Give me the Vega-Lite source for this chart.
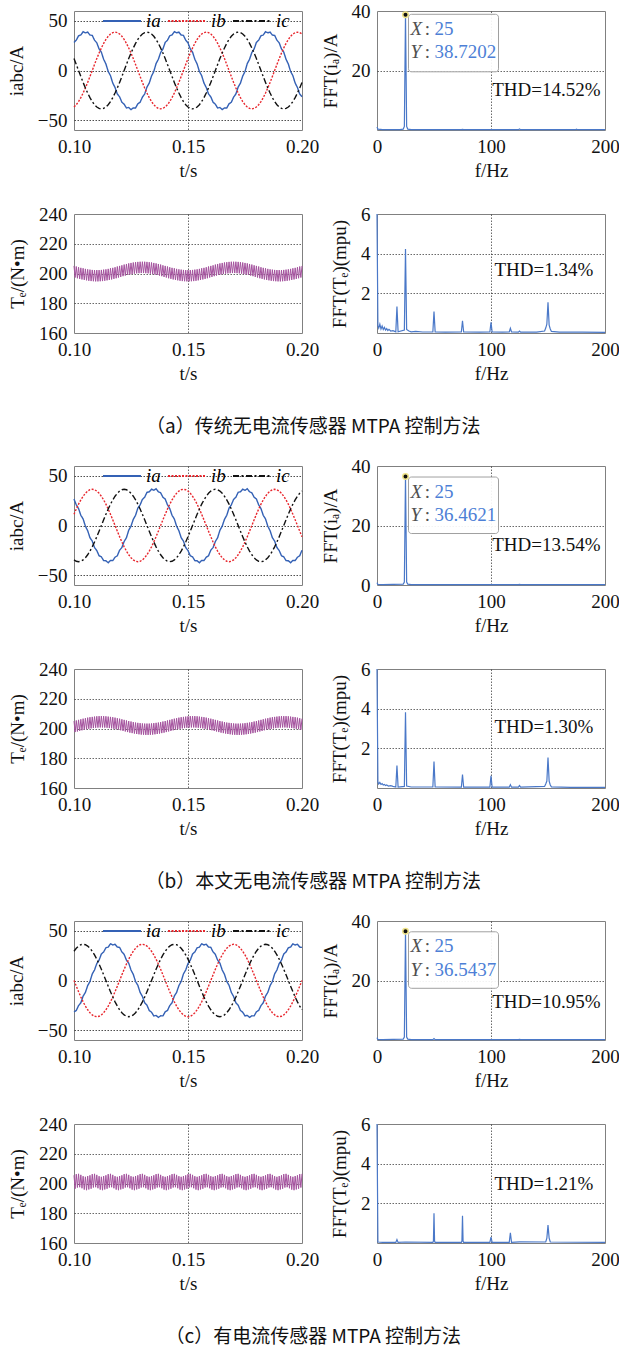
{
"$schema": "https://vega.github.io/schema/vega-lite/v6.json",
"padding": {"left": 6, "top": 0, "right": 0, "bottom": 0},
"background": "white",
"spacing": 18,
"resolve": {"scale": {"color": "independent", "strokeDash": "independent"}},
"datasets": {
"cur_a": [
{"s":"ia","t":0.100,"v":28.3},{"s":"ia","t":0.101,"v":30.6},{"s":"ia","t":0.102,"v":35.0},{"s":"ia","t":0.103,"v":35.8},{"s":"ia","t":0.104,"v":39.1},{"s":"ia","t":0.105,"v":38.0},{"s":"ia","t":0.106,"v":38.7},{"s":"ia","t":0.107,"v":35.8},{"s":"ia","t":0.108,"v":35.4},{"s":"ia","t":0.109,"v":30.6},
{"s":"ia","t":0.110,"v":27.9},{"s":"ia","t":0.111,"v":21.7},{"s":"ia","t":0.112,"v":18.5},{"s":"ia","t":0.113,"v":11.3},{"s":"ia","t":0.114,"v":6.6},{"s":"ia","t":0.115,"v":-1.0},{"s":"ia","t":0.116,"v":-5.2},{"s":"ia","t":0.117,"v":-12.7},{"s":"ia","t":0.118,"v":-17.1},{"s":"ia","t":0.119,"v":-23.7},
{"s":"ia","t":0.120,"v":-26.5},{"s":"ia","t":0.121,"v":-32.0},{"s":"ia","t":0.122,"v":-34.0},{"s":"ia","t":0.123,"v":-37.8},{"s":"ia","t":0.124,"v":-37.3},{"s":"ia","t":0.125,"v":-39.4},{"s":"ia","t":0.126,"v":-37.7},{"s":"ia","t":0.127,"v":-37.8},{"s":"ia","t":0.128,"v":-33.6},{"s":"ia","t":0.129,"v":-32.0},
{"s":"ia","t":0.130,"v":-26.9},{"s":"ia","t":0.131,"v":-23.7},{"s":"ia","t":0.132,"v":-16.7},{"s":"ia","t":0.133,"v":-12.7},{"s":"ia","t":0.134,"v":-5.6},{"s":"ia","t":0.135,"v":-1.0},{"s":"ia","t":0.136,"v":7.0},{"s":"ia","t":0.137,"v":11.3},{"s":"ia","t":0.138,"v":18.1},{"s":"ia","t":0.139,"v":21.7},
{"s":"ia","t":0.140,"v":28.3},{"s":"ia","t":0.141,"v":30.6},{"s":"ia","t":0.142,"v":35.0},{"s":"ia","t":0.143,"v":35.8},{"s":"ia","t":0.144,"v":39.1},{"s":"ia","t":0.145,"v":38.0},{"s":"ia","t":0.146,"v":38.7},{"s":"ia","t":0.147,"v":35.8},{"s":"ia","t":0.148,"v":35.4},{"s":"ia","t":0.149,"v":30.6},
{"s":"ia","t":0.150,"v":27.9},{"s":"ia","t":0.151,"v":21.7},{"s":"ia","t":0.152,"v":18.5},{"s":"ia","t":0.153,"v":11.3},{"s":"ia","t":0.154,"v":6.6},{"s":"ia","t":0.155,"v":-1.0},{"s":"ia","t":0.156,"v":-5.2},{"s":"ia","t":0.157,"v":-12.7},{"s":"ia","t":0.158,"v":-17.1},{"s":"ia","t":0.159,"v":-23.7},
{"s":"ia","t":0.160,"v":-26.5},{"s":"ia","t":0.161,"v":-32.0},{"s":"ia","t":0.162,"v":-34.0},{"s":"ia","t":0.163,"v":-37.8},{"s":"ia","t":0.164,"v":-37.3},{"s":"ia","t":0.165,"v":-39.4},{"s":"ia","t":0.166,"v":-37.7},{"s":"ia","t":0.167,"v":-37.8},{"s":"ia","t":0.168,"v":-33.6},{"s":"ia","t":0.169,"v":-32.0},
{"s":"ia","t":0.170,"v":-26.9},{"s":"ia","t":0.171,"v":-23.7},{"s":"ia","t":0.172,"v":-16.7},{"s":"ia","t":0.173,"v":-12.7},{"s":"ia","t":0.174,"v":-5.6},{"s":"ia","t":0.175,"v":-1.0},{"s":"ia","t":0.176,"v":7.0},{"s":"ia","t":0.177,"v":11.3},{"s":"ia","t":0.178,"v":18.1},{"s":"ia","t":0.179,"v":21.7},
{"s":"ia","t":0.180,"v":28.3},{"s":"ia","t":0.181,"v":30.6},{"s":"ia","t":0.182,"v":35.0},{"s":"ia","t":0.183,"v":35.8},{"s":"ia","t":0.184,"v":39.1},{"s":"ia","t":0.185,"v":38.0},{"s":"ia","t":0.186,"v":38.7},{"s":"ia","t":0.187,"v":35.8},{"s":"ia","t":0.188,"v":35.4},{"s":"ia","t":0.189,"v":30.6},
{"s":"ia","t":0.190,"v":27.9},{"s":"ia","t":0.191,"v":21.7},{"s":"ia","t":0.192,"v":18.5},{"s":"ia","t":0.193,"v":11.3},{"s":"ia","t":0.194,"v":6.6},{"s":"ia","t":0.195,"v":-1.0},{"s":"ia","t":0.196,"v":-5.2},{"s":"ia","t":0.197,"v":-12.7},{"s":"ia","t":0.198,"v":-17.1},{"s":"ia","t":0.199,"v":-23.7},{"s":"ia","t":0.200,"v":-26.5},
{"s":"ib","t":0.100,"v":-36.8},{"s":"ib","t":0.101,"v":-34.5},{"s":"ib","t":0.102,"v":-31.3},{"s":"ib","t":0.103,"v":-27.4},{"s":"ib","t":0.104,"v":-22.7},{"s":"ib","t":0.105,"v":-17.6},{"s":"ib","t":0.106,"v":-12.0},{"s":"ib","t":0.107,"v":-6.1},{"s":"ib","t":0.108,"v":0},{"s":"ib","t":0.109,"v":6.1},
{"s":"ib","t":0.110,"v":12.0},{"s":"ib","t":0.111,"v":17.6},{"s":"ib","t":0.112,"v":22.7},{"s":"ib","t":0.113,"v":27.4},{"s":"ib","t":0.114,"v":31.3},{"s":"ib","t":0.115,"v":34.5},{"s":"ib","t":0.116,"v":36.8},{"s":"ib","t":0.117,"v":38.2},{"s":"ib","t":0.118,"v":38.7},{"s":"ib","t":0.119,"v":38.2},
{"s":"ib","t":0.120,"v":36.8},{"s":"ib","t":0.121,"v":34.5},{"s":"ib","t":0.122,"v":31.3},{"s":"ib","t":0.123,"v":27.4},{"s":"ib","t":0.124,"v":22.7},{"s":"ib","t":0.125,"v":17.6},{"s":"ib","t":0.126,"v":12.0},{"s":"ib","t":0.127,"v":6.1},{"s":"ib","t":0.128,"v":0},{"s":"ib","t":0.129,"v":-6.1},
{"s":"ib","t":0.130,"v":-12.0},{"s":"ib","t":0.131,"v":-17.6},{"s":"ib","t":0.132,"v":-22.7},{"s":"ib","t":0.133,"v":-27.4},{"s":"ib","t":0.134,"v":-31.3},{"s":"ib","t":0.135,"v":-34.5},{"s":"ib","t":0.136,"v":-36.8},{"s":"ib","t":0.137,"v":-38.2},{"s":"ib","t":0.138,"v":-38.7},{"s":"ib","t":0.139,"v":-38.2},
{"s":"ib","t":0.140,"v":-36.8},{"s":"ib","t":0.141,"v":-34.5},{"s":"ib","t":0.142,"v":-31.3},{"s":"ib","t":0.143,"v":-27.4},{"s":"ib","t":0.144,"v":-22.7},{"s":"ib","t":0.145,"v":-17.6},{"s":"ib","t":0.146,"v":-12.0},{"s":"ib","t":0.147,"v":-6.1},{"s":"ib","t":0.148,"v":0},{"s":"ib","t":0.149,"v":6.1},
{"s":"ib","t":0.150,"v":12.0},{"s":"ib","t":0.151,"v":17.6},{"s":"ib","t":0.152,"v":22.7},{"s":"ib","t":0.153,"v":27.4},{"s":"ib","t":0.154,"v":31.3},{"s":"ib","t":0.155,"v":34.5},{"s":"ib","t":0.156,"v":36.8},{"s":"ib","t":0.157,"v":38.2},{"s":"ib","t":0.158,"v":38.7},{"s":"ib","t":0.159,"v":38.2},
{"s":"ib","t":0.160,"v":36.8},{"s":"ib","t":0.161,"v":34.5},{"s":"ib","t":0.162,"v":31.3},{"s":"ib","t":0.163,"v":27.4},{"s":"ib","t":0.164,"v":22.7},{"s":"ib","t":0.165,"v":17.6},{"s":"ib","t":0.166,"v":12.0},{"s":"ib","t":0.167,"v":6.1},{"s":"ib","t":0.168,"v":0},{"s":"ib","t":0.169,"v":-6.1},
{"s":"ib","t":0.170,"v":-12.0},{"s":"ib","t":0.171,"v":-17.6},{"s":"ib","t":0.172,"v":-22.7},{"s":"ib","t":0.173,"v":-27.4},{"s":"ib","t":0.174,"v":-31.3},{"s":"ib","t":0.175,"v":-34.5},{"s":"ib","t":0.176,"v":-36.8},{"s":"ib","t":0.177,"v":-38.2},{"s":"ib","t":0.178,"v":-38.7},{"s":"ib","t":0.179,"v":-38.2},
{"s":"ib","t":0.180,"v":-36.8},{"s":"ib","t":0.181,"v":-34.5},{"s":"ib","t":0.182,"v":-31.3},{"s":"ib","t":0.183,"v":-27.4},{"s":"ib","t":0.184,"v":-22.7},{"s":"ib","t":0.185,"v":-17.6},{"s":"ib","t":0.186,"v":-12.0},{"s":"ib","t":0.187,"v":-6.1},{"s":"ib","t":0.188,"v":0},{"s":"ib","t":0.189,"v":6.1},
{"s":"ib","t":0.190,"v":12.0},{"s":"ib","t":0.191,"v":17.6},{"s":"ib","t":0.192,"v":22.7},{"s":"ib","t":0.193,"v":27.4},{"s":"ib","t":0.194,"v":31.3},{"s":"ib","t":0.195,"v":34.5},{"s":"ib","t":0.196,"v":36.8},{"s":"ib","t":0.197,"v":38.2},{"s":"ib","t":0.198,"v":38.7},{"s":"ib","t":0.199,"v":38.2},{"s":"ib","t":0.200,"v":36.8},
{"s":"ic","t":0.100,"v":12.0},{"s":"ic","t":0.101,"v":6.1},{"s":"ic","t":0.102,"v":0},{"s":"ic","t":0.103,"v":-6.1},{"s":"ic","t":0.104,"v":-12.0},{"s":"ic","t":0.105,"v":-17.6},{"s":"ic","t":0.106,"v":-22.7},{"s":"ic","t":0.107,"v":-27.4},{"s":"ic","t":0.108,"v":-31.3},{"s":"ic","t":0.109,"v":-34.5},
{"s":"ic","t":0.110,"v":-36.8},{"s":"ic","t":0.111,"v":-38.2},{"s":"ic","t":0.112,"v":-38.7},{"s":"ic","t":0.113,"v":-38.2},{"s":"ic","t":0.114,"v":-36.8},{"s":"ic","t":0.115,"v":-34.5},{"s":"ic","t":0.116,"v":-31.3},{"s":"ic","t":0.117,"v":-27.4},{"s":"ic","t":0.118,"v":-22.7},{"s":"ic","t":0.119,"v":-17.6},
{"s":"ic","t":0.120,"v":-12.0},{"s":"ic","t":0.121,"v":-6.1},{"s":"ic","t":0.122,"v":0},{"s":"ic","t":0.123,"v":6.1},{"s":"ic","t":0.124,"v":12.0},{"s":"ic","t":0.125,"v":17.6},{"s":"ic","t":0.126,"v":22.7},{"s":"ic","t":0.127,"v":27.4},{"s":"ic","t":0.128,"v":31.3},{"s":"ic","t":0.129,"v":34.5},
{"s":"ic","t":0.130,"v":36.8},{"s":"ic","t":0.131,"v":38.2},{"s":"ic","t":0.132,"v":38.7},{"s":"ic","t":0.133,"v":38.2},{"s":"ic","t":0.134,"v":36.8},{"s":"ic","t":0.135,"v":34.5},{"s":"ic","t":0.136,"v":31.3},{"s":"ic","t":0.137,"v":27.4},{"s":"ic","t":0.138,"v":22.7},{"s":"ic","t":0.139,"v":17.6},
{"s":"ic","t":0.140,"v":12.0},{"s":"ic","t":0.141,"v":6.1},{"s":"ic","t":0.142,"v":0},{"s":"ic","t":0.143,"v":-6.1},{"s":"ic","t":0.144,"v":-12.0},{"s":"ic","t":0.145,"v":-17.6},{"s":"ic","t":0.146,"v":-22.7},{"s":"ic","t":0.147,"v":-27.4},{"s":"ic","t":0.148,"v":-31.3},{"s":"ic","t":0.149,"v":-34.5},
{"s":"ic","t":0.150,"v":-36.8},{"s":"ic","t":0.151,"v":-38.2},{"s":"ic","t":0.152,"v":-38.7},{"s":"ic","t":0.153,"v":-38.2},{"s":"ic","t":0.154,"v":-36.8},{"s":"ic","t":0.155,"v":-34.5},{"s":"ic","t":0.156,"v":-31.3},{"s":"ic","t":0.157,"v":-27.4},{"s":"ic","t":0.158,"v":-22.7},{"s":"ic","t":0.159,"v":-17.6},
{"s":"ic","t":0.160,"v":-12.0},{"s":"ic","t":0.161,"v":-6.1},{"s":"ic","t":0.162,"v":0},{"s":"ic","t":0.163,"v":6.1},{"s":"ic","t":0.164,"v":12.0},{"s":"ic","t":0.165,"v":17.6},{"s":"ic","t":0.166,"v":22.7},{"s":"ic","t":0.167,"v":27.4},{"s":"ic","t":0.168,"v":31.3},{"s":"ic","t":0.169,"v":34.5},
{"s":"ic","t":0.170,"v":36.8},{"s":"ic","t":0.171,"v":38.2},{"s":"ic","t":0.172,"v":38.7},{"s":"ic","t":0.173,"v":38.2},{"s":"ic","t":0.174,"v":36.8},{"s":"ic","t":0.175,"v":34.5},{"s":"ic","t":0.176,"v":31.3},{"s":"ic","t":0.177,"v":27.4},{"s":"ic","t":0.178,"v":22.7},{"s":"ic","t":0.179,"v":17.6},
{"s":"ic","t":0.180,"v":12.0},{"s":"ic","t":0.181,"v":6.1},{"s":"ic","t":0.182,"v":0},{"s":"ic","t":0.183,"v":-6.1},{"s":"ic","t":0.184,"v":-12.0},{"s":"ic","t":0.185,"v":-17.6},{"s":"ic","t":0.186,"v":-22.7},{"s":"ic","t":0.187,"v":-27.4},{"s":"ic","t":0.188,"v":-31.3},{"s":"ic","t":0.189,"v":-34.5},
{"s":"ic","t":0.190,"v":-36.8},{"s":"ic","t":0.191,"v":-38.2},{"s":"ic","t":0.192,"v":-38.7},{"s":"ic","t":0.193,"v":-38.2},{"s":"ic","t":0.194,"v":-36.8},{"s":"ic","t":0.195,"v":-34.5},{"s":"ic","t":0.196,"v":-31.3},{"s":"ic","t":0.197,"v":-27.4},{"s":"ic","t":0.198,"v":-22.7},{"s":"ic","t":0.199,"v":-17.6},{"s":"ic","t":0.200,"v":-12.0}
],
"cur_b": [
{"s":"ia","t":0.100,"v":26.7},{"s":"ia","t":0.101,"v":20.8},{"s":"ia","t":0.102,"v":17.1},{"s":"ia","t":0.103,"v":10.3},{"s":"ia","t":0.104,"v":6.6},{"s":"ia","t":0.105,"v":-0.7},{"s":"ia","t":0.106,"v":-5.2},{"s":"ia","t":0.107,"v":-12.3},{"s":"ia","t":0.108,"v":-15.7},{"s":"ia","t":0.109,"v":-22.2},
{"s":"ia","t":0.110,"v":-25.3},{"s":"ia","t":0.111,"v":-30.5},{"s":"ia","t":0.112,"v":-31.6},{"s":"ia","t":0.113,"v":-35.4},{"s":"ia","t":0.114,"v":-35.6},{"s":"ia","t":0.115,"v":-37.5},{"s":"ia","t":0.116,"v":-35.2},{"s":"ia","t":0.117,"v":-35.4},{"s":"ia","t":0.118,"v":-32.0},{"s":"ia","t":0.119,"v":-30.5},
{"s":"ia","t":0.120,"v":-24.9},{"s":"ia","t":0.121,"v":-22.2},{"s":"ia","t":0.122,"v":-16.1},{"s":"ia","t":0.123,"v":-12.3},{"s":"ia","t":0.124,"v":-4.8},{"s":"ia","t":0.125,"v":-0.7},{"s":"ia","t":0.126,"v":6.2},{"s":"ia","t":0.127,"v":10.3},{"s":"ia","t":0.128,"v":17.5},{"s":"ia","t":0.129,"v":20.8},
{"s":"ia","t":0.130,"v":26.3},{"s":"ia","t":0.131,"v":28.5},{"s":"ia","t":0.132,"v":33.4},{"s":"ia","t":0.133,"v":34.0},{"s":"ia","t":0.134,"v":36.6},{"s":"ia","t":0.135,"v":35.5},{"s":"ia","t":0.136,"v":37.0},{"s":"ia","t":0.137,"v":34.0},{"s":"ia","t":0.138,"v":33.0},{"s":"ia","t":0.139,"v":28.5},
{"s":"ia","t":0.140,"v":26.7},{"s":"ia","t":0.141,"v":20.8},{"s":"ia","t":0.142,"v":17.1},{"s":"ia","t":0.143,"v":10.3},{"s":"ia","t":0.144,"v":6.6},{"s":"ia","t":0.145,"v":-0.7},{"s":"ia","t":0.146,"v":-5.2},{"s":"ia","t":0.147,"v":-12.3},{"s":"ia","t":0.148,"v":-15.7},{"s":"ia","t":0.149,"v":-22.2},
{"s":"ia","t":0.150,"v":-25.3},{"s":"ia","t":0.151,"v":-30.5},{"s":"ia","t":0.152,"v":-31.6},{"s":"ia","t":0.153,"v":-35.4},{"s":"ia","t":0.154,"v":-35.6},{"s":"ia","t":0.155,"v":-37.5},{"s":"ia","t":0.156,"v":-35.2},{"s":"ia","t":0.157,"v":-35.4},{"s":"ia","t":0.158,"v":-32.0},{"s":"ia","t":0.159,"v":-30.5},
{"s":"ia","t":0.160,"v":-24.9},{"s":"ia","t":0.161,"v":-22.2},{"s":"ia","t":0.162,"v":-16.1},{"s":"ia","t":0.163,"v":-12.3},{"s":"ia","t":0.164,"v":-4.8},{"s":"ia","t":0.165,"v":-0.7},{"s":"ia","t":0.166,"v":6.2},{"s":"ia","t":0.167,"v":10.3},{"s":"ia","t":0.168,"v":17.5},{"s":"ia","t":0.169,"v":20.8},
{"s":"ia","t":0.170,"v":26.3},{"s":"ia","t":0.171,"v":28.5},{"s":"ia","t":0.172,"v":33.4},{"s":"ia","t":0.173,"v":34.0},{"s":"ia","t":0.174,"v":36.6},{"s":"ia","t":0.175,"v":35.5},{"s":"ia","t":0.176,"v":37.0},{"s":"ia","t":0.177,"v":34.0},{"s":"ia","t":0.178,"v":33.0},{"s":"ia","t":0.179,"v":28.5},
{"s":"ia","t":0.180,"v":26.7},{"s":"ia","t":0.181,"v":20.8},{"s":"ia","t":0.182,"v":17.1},{"s":"ia","t":0.183,"v":10.3},{"s":"ia","t":0.184,"v":6.6},{"s":"ia","t":0.185,"v":-0.7},{"s":"ia","t":0.186,"v":-5.2},{"s":"ia","t":0.187,"v":-12.3},{"s":"ia","t":0.188,"v":-15.7},{"s":"ia","t":0.189,"v":-22.2},
{"s":"ia","t":0.190,"v":-25.3},{"s":"ia","t":0.191,"v":-30.5},{"s":"ia","t":0.192,"v":-31.6},{"s":"ia","t":0.193,"v":-35.4},{"s":"ia","t":0.194,"v":-35.6},{"s":"ia","t":0.195,"v":-37.5},{"s":"ia","t":0.196,"v":-35.2},{"s":"ia","t":0.197,"v":-35.4},{"s":"ia","t":0.198,"v":-32.0},{"s":"ia","t":0.199,"v":-30.5},{"s":"ia","t":0.200,"v":-24.9},
{"s":"ib","t":0.100,"v":11.3},{"s":"ib","t":0.101,"v":16.6},{"s":"ib","t":0.102,"v":21.5},{"s":"ib","t":0.103,"v":25.8},{"s":"ib","t":0.104,"v":29.5},{"s":"ib","t":0.105,"v":32.5},{"s":"ib","t":0.106,"v":34.7},{"s":"ib","t":0.107,"v":36.1},{"s":"ib","t":0.108,"v":36.5},{"s":"ib","t":0.109,"v":36.1},
{"s":"ib","t":0.110,"v":34.7},{"s":"ib","t":0.111,"v":32.5},{"s":"ib","t":0.112,"v":29.5},{"s":"ib","t":0.113,"v":25.8},{"s":"ib","t":0.114,"v":21.5},{"s":"ib","t":0.115,"v":16.6},{"s":"ib","t":0.116,"v":11.3},{"s":"ib","t":0.117,"v":5.7},{"s":"ib","t":0.118,"v":0},{"s":"ib","t":0.119,"v":-5.7},
{"s":"ib","t":0.120,"v":-11.3},{"s":"ib","t":0.121,"v":-16.6},{"s":"ib","t":0.122,"v":-21.5},{"s":"ib","t":0.123,"v":-25.8},{"s":"ib","t":0.124,"v":-29.5},{"s":"ib","t":0.125,"v":-32.5},{"s":"ib","t":0.126,"v":-34.7},{"s":"ib","t":0.127,"v":-36.1},{"s":"ib","t":0.128,"v":-36.5},{"s":"ib","t":0.129,"v":-36.1},
{"s":"ib","t":0.130,"v":-34.7},{"s":"ib","t":0.131,"v":-32.5},{"s":"ib","t":0.132,"v":-29.5},{"s":"ib","t":0.133,"v":-25.8},{"s":"ib","t":0.134,"v":-21.5},{"s":"ib","t":0.135,"v":-16.6},{"s":"ib","t":0.136,"v":-11.3},{"s":"ib","t":0.137,"v":-5.7},{"s":"ib","t":0.138,"v":0},{"s":"ib","t":0.139,"v":5.7},
{"s":"ib","t":0.140,"v":11.3},{"s":"ib","t":0.141,"v":16.6},{"s":"ib","t":0.142,"v":21.5},{"s":"ib","t":0.143,"v":25.8},{"s":"ib","t":0.144,"v":29.5},{"s":"ib","t":0.145,"v":32.5},{"s":"ib","t":0.146,"v":34.7},{"s":"ib","t":0.147,"v":36.1},{"s":"ib","t":0.148,"v":36.5},{"s":"ib","t":0.149,"v":36.1},
{"s":"ib","t":0.150,"v":34.7},{"s":"ib","t":0.151,"v":32.5},{"s":"ib","t":0.152,"v":29.5},{"s":"ib","t":0.153,"v":25.8},{"s":"ib","t":0.154,"v":21.5},{"s":"ib","t":0.155,"v":16.6},{"s":"ib","t":0.156,"v":11.3},{"s":"ib","t":0.157,"v":5.7},{"s":"ib","t":0.158,"v":0},{"s":"ib","t":0.159,"v":-5.7},
{"s":"ib","t":0.160,"v":-11.3},{"s":"ib","t":0.161,"v":-16.6},{"s":"ib","t":0.162,"v":-21.5},{"s":"ib","t":0.163,"v":-25.8},{"s":"ib","t":0.164,"v":-29.5},{"s":"ib","t":0.165,"v":-32.5},{"s":"ib","t":0.166,"v":-34.7},{"s":"ib","t":0.167,"v":-36.1},{"s":"ib","t":0.168,"v":-36.5},{"s":"ib","t":0.169,"v":-36.1},
{"s":"ib","t":0.170,"v":-34.7},{"s":"ib","t":0.171,"v":-32.5},{"s":"ib","t":0.172,"v":-29.5},{"s":"ib","t":0.173,"v":-25.8},{"s":"ib","t":0.174,"v":-21.5},{"s":"ib","t":0.175,"v":-16.6},{"s":"ib","t":0.176,"v":-11.3},{"s":"ib","t":0.177,"v":-5.7},{"s":"ib","t":0.178,"v":0},{"s":"ib","t":0.179,"v":5.7},
{"s":"ib","t":0.180,"v":11.3},{"s":"ib","t":0.181,"v":16.6},{"s":"ib","t":0.182,"v":21.5},{"s":"ib","t":0.183,"v":25.8},{"s":"ib","t":0.184,"v":29.5},{"s":"ib","t":0.185,"v":32.5},{"s":"ib","t":0.186,"v":34.7},{"s":"ib","t":0.187,"v":36.1},{"s":"ib","t":0.188,"v":36.5},{"s":"ib","t":0.189,"v":36.1},
{"s":"ib","t":0.190,"v":34.7},{"s":"ib","t":0.191,"v":32.5},{"s":"ib","t":0.192,"v":29.5},{"s":"ib","t":0.193,"v":25.8},{"s":"ib","t":0.194,"v":21.5},{"s":"ib","t":0.195,"v":16.6},{"s":"ib","t":0.196,"v":11.3},{"s":"ib","t":0.197,"v":5.7},{"s":"ib","t":0.198,"v":0},{"s":"ib","t":0.199,"v":-5.7},{"s":"ib","t":0.200,"v":-11.3},
{"s":"ic","t":0.100,"v":-34.7},{"s":"ic","t":0.101,"v":-36.1},{"s":"ic","t":0.102,"v":-36.5},{"s":"ic","t":0.103,"v":-36.1},{"s":"ic","t":0.104,"v":-34.7},{"s":"ic","t":0.105,"v":-32.5},{"s":"ic","t":0.106,"v":-29.5},{"s":"ic","t":0.107,"v":-25.8},{"s":"ic","t":0.108,"v":-21.5},{"s":"ic","t":0.109,"v":-16.6},
{"s":"ic","t":0.110,"v":-11.3},{"s":"ic","t":0.111,"v":-5.7},{"s":"ic","t":0.112,"v":0},{"s":"ic","t":0.113,"v":5.7},{"s":"ic","t":0.114,"v":11.3},{"s":"ic","t":0.115,"v":16.6},{"s":"ic","t":0.116,"v":21.5},{"s":"ic","t":0.117,"v":25.8},{"s":"ic","t":0.118,"v":29.5},{"s":"ic","t":0.119,"v":32.5},
{"s":"ic","t":0.120,"v":34.7},{"s":"ic","t":0.121,"v":36.1},{"s":"ic","t":0.122,"v":36.5},{"s":"ic","t":0.123,"v":36.1},{"s":"ic","t":0.124,"v":34.7},{"s":"ic","t":0.125,"v":32.5},{"s":"ic","t":0.126,"v":29.5},{"s":"ic","t":0.127,"v":25.8},{"s":"ic","t":0.128,"v":21.5},{"s":"ic","t":0.129,"v":16.6},
{"s":"ic","t":0.130,"v":11.3},{"s":"ic","t":0.131,"v":5.7},{"s":"ic","t":0.132,"v":0},{"s":"ic","t":0.133,"v":-5.7},{"s":"ic","t":0.134,"v":-11.3},{"s":"ic","t":0.135,"v":-16.6},{"s":"ic","t":0.136,"v":-21.5},{"s":"ic","t":0.137,"v":-25.8},{"s":"ic","t":0.138,"v":-29.5},{"s":"ic","t":0.139,"v":-32.5},
{"s":"ic","t":0.140,"v":-34.7},{"s":"ic","t":0.141,"v":-36.1},{"s":"ic","t":0.142,"v":-36.5},{"s":"ic","t":0.143,"v":-36.1},{"s":"ic","t":0.144,"v":-34.7},{"s":"ic","t":0.145,"v":-32.5},{"s":"ic","t":0.146,"v":-29.5},{"s":"ic","t":0.147,"v":-25.8},{"s":"ic","t":0.148,"v":-21.5},{"s":"ic","t":0.149,"v":-16.6},
{"s":"ic","t":0.150,"v":-11.3},{"s":"ic","t":0.151,"v":-5.7},{"s":"ic","t":0.152,"v":0},{"s":"ic","t":0.153,"v":5.7},{"s":"ic","t":0.154,"v":11.3},{"s":"ic","t":0.155,"v":16.6},{"s":"ic","t":0.156,"v":21.5},{"s":"ic","t":0.157,"v":25.8},{"s":"ic","t":0.158,"v":29.5},{"s":"ic","t":0.159,"v":32.5},
{"s":"ic","t":0.160,"v":34.7},{"s":"ic","t":0.161,"v":36.1},{"s":"ic","t":0.162,"v":36.5},{"s":"ic","t":0.163,"v":36.1},{"s":"ic","t":0.164,"v":34.7},{"s":"ic","t":0.165,"v":32.5},{"s":"ic","t":0.166,"v":29.5},{"s":"ic","t":0.167,"v":25.8},{"s":"ic","t":0.168,"v":21.5},{"s":"ic","t":0.169,"v":16.6},
{"s":"ic","t":0.170,"v":11.3},{"s":"ic","t":0.171,"v":5.7},{"s":"ic","t":0.172,"v":0},{"s":"ic","t":0.173,"v":-5.7},{"s":"ic","t":0.174,"v":-11.3},{"s":"ic","t":0.175,"v":-16.6},{"s":"ic","t":0.176,"v":-21.5},{"s":"ic","t":0.177,"v":-25.8},{"s":"ic","t":0.178,"v":-29.5},{"s":"ic","t":0.179,"v":-32.5},
{"s":"ic","t":0.180,"v":-34.7},{"s":"ic","t":0.181,"v":-36.1},{"s":"ic","t":0.182,"v":-36.5},{"s":"ic","t":0.183,"v":-36.1},{"s":"ic","t":0.184,"v":-34.7},{"s":"ic","t":0.185,"v":-32.5},{"s":"ic","t":0.186,"v":-29.5},{"s":"ic","t":0.187,"v":-25.8},{"s":"ic","t":0.188,"v":-21.5},{"s":"ic","t":0.189,"v":-16.6},
{"s":"ic","t":0.190,"v":-11.3},{"s":"ic","t":0.191,"v":-5.7},{"s":"ic","t":0.192,"v":0},{"s":"ic","t":0.193,"v":5.7},{"s":"ic","t":0.194,"v":11.3},{"s":"ic","t":0.195,"v":16.6},{"s":"ic","t":0.196,"v":21.5},{"s":"ic","t":0.197,"v":25.8},{"s":"ic","t":0.198,"v":29.5},{"s":"ic","t":0.199,"v":32.5},{"s":"ic","t":0.200,"v":34.7}
],
"cur_c": [
{"s":"ia","t":0.100,"v":-31.6},{"s":"ia","t":0.101,"v":-30.2},{"s":"ia","t":0.102,"v":-25.3},{"s":"ia","t":0.103,"v":-22.5},{"s":"ia","t":0.104,"v":-15.7},{"s":"ia","t":0.105,"v":-12.0},{"s":"ia","t":0.106,"v":-5.2},{"s":"ia","t":0.107,"v":-1.0},{"s":"ia","t":0.108,"v":6.6},{"s":"ia","t":0.109,"v":10.6},
{"s":"ia","t":0.110,"v":17.1},{"s":"ia","t":0.111,"v":20.5},{"s":"ia","t":0.112,"v":26.7},{"s":"ia","t":0.113,"v":28.8},{"s":"ia","t":0.114,"v":33.0},{"s":"ia","t":0.115,"v":33.7},{"s":"ia","t":0.116,"v":37.0},{"s":"ia","t":0.117,"v":35.8},{"s":"ia","t":0.118,"v":36.6},{"s":"ia","t":0.119,"v":33.7},
{"s":"ia","t":0.120,"v":33.4},{"s":"ia","t":0.121,"v":28.8},{"s":"ia","t":0.122,"v":26.3},{"s":"ia","t":0.123,"v":20.5},{"s":"ia","t":0.124,"v":17.5},{"s":"ia","t":0.125,"v":10.6},{"s":"ia","t":0.126,"v":6.2},{"s":"ia","t":0.127,"v":-1.0},{"s":"ia","t":0.128,"v":-4.8},{"s":"ia","t":0.129,"v":-12.0},
{"s":"ia","t":0.130,"v":-16.1},{"s":"ia","t":0.131,"v":-22.5},{"s":"ia","t":0.132,"v":-24.9},{"s":"ia","t":0.133,"v":-30.2},{"s":"ia","t":0.134,"v":-32.0},{"s":"ia","t":0.135,"v":-35.7},{"s":"ia","t":0.136,"v":-35.2},{"s":"ia","t":0.137,"v":-37.2},{"s":"ia","t":0.138,"v":-35.6},{"s":"ia","t":0.139,"v":-35.7},
{"s":"ia","t":0.140,"v":-31.6},{"s":"ia","t":0.141,"v":-30.2},{"s":"ia","t":0.142,"v":-25.3},{"s":"ia","t":0.143,"v":-22.5},{"s":"ia","t":0.144,"v":-15.7},{"s":"ia","t":0.145,"v":-12.0},{"s":"ia","t":0.146,"v":-5.2},{"s":"ia","t":0.147,"v":-1.0},{"s":"ia","t":0.148,"v":6.6},{"s":"ia","t":0.149,"v":10.6},
{"s":"ia","t":0.150,"v":17.1},{"s":"ia","t":0.151,"v":20.5},{"s":"ia","t":0.152,"v":26.7},{"s":"ia","t":0.153,"v":28.8},{"s":"ia","t":0.154,"v":33.0},{"s":"ia","t":0.155,"v":33.7},{"s":"ia","t":0.156,"v":37.0},{"s":"ia","t":0.157,"v":35.8},{"s":"ia","t":0.158,"v":36.6},{"s":"ia","t":0.159,"v":33.7},
{"s":"ia","t":0.160,"v":33.4},{"s":"ia","t":0.161,"v":28.8},{"s":"ia","t":0.162,"v":26.3},{"s":"ia","t":0.163,"v":20.5},{"s":"ia","t":0.164,"v":17.5},{"s":"ia","t":0.165,"v":10.6},{"s":"ia","t":0.166,"v":6.2},{"s":"ia","t":0.167,"v":-1.0},{"s":"ia","t":0.168,"v":-4.8},{"s":"ia","t":0.169,"v":-12.0},
{"s":"ia","t":0.170,"v":-16.1},{"s":"ia","t":0.171,"v":-22.5},{"s":"ia","t":0.172,"v":-24.9},{"s":"ia","t":0.173,"v":-30.2},{"s":"ia","t":0.174,"v":-32.0},{"s":"ia","t":0.175,"v":-35.7},{"s":"ia","t":0.176,"v":-35.2},{"s":"ia","t":0.177,"v":-37.2},{"s":"ia","t":0.178,"v":-35.6},{"s":"ia","t":0.179,"v":-35.7},
{"s":"ia","t":0.180,"v":-31.6},{"s":"ia","t":0.181,"v":-30.2},{"s":"ia","t":0.182,"v":-25.3},{"s":"ia","t":0.183,"v":-22.5},{"s":"ia","t":0.184,"v":-15.7},{"s":"ia","t":0.185,"v":-12.0},{"s":"ia","t":0.186,"v":-5.2},{"s":"ia","t":0.187,"v":-1.0},{"s":"ia","t":0.188,"v":6.6},{"s":"ia","t":0.189,"v":10.6},
{"s":"ia","t":0.190,"v":17.1},{"s":"ia","t":0.191,"v":20.5},{"s":"ia","t":0.192,"v":26.7},{"s":"ia","t":0.193,"v":28.8},{"s":"ia","t":0.194,"v":33.0},{"s":"ia","t":0.195,"v":33.7},{"s":"ia","t":0.196,"v":37.0},{"s":"ia","t":0.197,"v":35.8},{"s":"ia","t":0.198,"v":36.6},{"s":"ia","t":0.199,"v":33.7},{"s":"ia","t":0.200,"v":33.4},
{"s":"ib","t":0.100,"v":0},{"s":"ib","t":0.101,"v":-5.7},{"s":"ib","t":0.102,"v":-11.3},{"s":"ib","t":0.103,"v":-16.6},{"s":"ib","t":0.104,"v":-21.5},{"s":"ib","t":0.105,"v":-25.8},{"s":"ib","t":0.106,"v":-29.5},{"s":"ib","t":0.107,"v":-32.5},{"s":"ib","t":0.108,"v":-34.7},{"s":"ib","t":0.109,"v":-36.1},
{"s":"ib","t":0.110,"v":-36.5},{"s":"ib","t":0.111,"v":-36.1},{"s":"ib","t":0.112,"v":-34.7},{"s":"ib","t":0.113,"v":-32.5},{"s":"ib","t":0.114,"v":-29.5},{"s":"ib","t":0.115,"v":-25.8},{"s":"ib","t":0.116,"v":-21.5},{"s":"ib","t":0.117,"v":-16.6},{"s":"ib","t":0.118,"v":-11.3},{"s":"ib","t":0.119,"v":-5.7},
{"s":"ib","t":0.120,"v":0},{"s":"ib","t":0.121,"v":5.7},{"s":"ib","t":0.122,"v":11.3},{"s":"ib","t":0.123,"v":16.6},{"s":"ib","t":0.124,"v":21.5},{"s":"ib","t":0.125,"v":25.8},{"s":"ib","t":0.126,"v":29.5},{"s":"ib","t":0.127,"v":32.5},{"s":"ib","t":0.128,"v":34.7},{"s":"ib","t":0.129,"v":36.1},
{"s":"ib","t":0.130,"v":36.5},{"s":"ib","t":0.131,"v":36.1},{"s":"ib","t":0.132,"v":34.7},{"s":"ib","t":0.133,"v":32.5},{"s":"ib","t":0.134,"v":29.5},{"s":"ib","t":0.135,"v":25.8},{"s":"ib","t":0.136,"v":21.5},{"s":"ib","t":0.137,"v":16.6},{"s":"ib","t":0.138,"v":11.3},{"s":"ib","t":0.139,"v":5.7},
{"s":"ib","t":0.140,"v":0},{"s":"ib","t":0.141,"v":-5.7},{"s":"ib","t":0.142,"v":-11.3},{"s":"ib","t":0.143,"v":-16.6},{"s":"ib","t":0.144,"v":-21.5},{"s":"ib","t":0.145,"v":-25.8},{"s":"ib","t":0.146,"v":-29.5},{"s":"ib","t":0.147,"v":-32.5},{"s":"ib","t":0.148,"v":-34.7},{"s":"ib","t":0.149,"v":-36.1},
{"s":"ib","t":0.150,"v":-36.5},{"s":"ib","t":0.151,"v":-36.1},{"s":"ib","t":0.152,"v":-34.7},{"s":"ib","t":0.153,"v":-32.5},{"s":"ib","t":0.154,"v":-29.5},{"s":"ib","t":0.155,"v":-25.8},{"s":"ib","t":0.156,"v":-21.5},{"s":"ib","t":0.157,"v":-16.6},{"s":"ib","t":0.158,"v":-11.3},{"s":"ib","t":0.159,"v":-5.7},
{"s":"ib","t":0.160,"v":0},{"s":"ib","t":0.161,"v":5.7},{"s":"ib","t":0.162,"v":11.3},{"s":"ib","t":0.163,"v":16.6},{"s":"ib","t":0.164,"v":21.5},{"s":"ib","t":0.165,"v":25.8},{"s":"ib","t":0.166,"v":29.5},{"s":"ib","t":0.167,"v":32.5},{"s":"ib","t":0.168,"v":34.7},{"s":"ib","t":0.169,"v":36.1},
{"s":"ib","t":0.170,"v":36.5},{"s":"ib","t":0.171,"v":36.1},{"s":"ib","t":0.172,"v":34.7},{"s":"ib","t":0.173,"v":32.5},{"s":"ib","t":0.174,"v":29.5},{"s":"ib","t":0.175,"v":25.8},{"s":"ib","t":0.176,"v":21.5},{"s":"ib","t":0.177,"v":16.6},{"s":"ib","t":0.178,"v":11.3},{"s":"ib","t":0.179,"v":5.7},
{"s":"ib","t":0.180,"v":0},{"s":"ib","t":0.181,"v":-5.7},{"s":"ib","t":0.182,"v":-11.3},{"s":"ib","t":0.183,"v":-16.6},{"s":"ib","t":0.184,"v":-21.5},{"s":"ib","t":0.185,"v":-25.8},{"s":"ib","t":0.186,"v":-29.5},{"s":"ib","t":0.187,"v":-32.5},{"s":"ib","t":0.188,"v":-34.7},{"s":"ib","t":0.189,"v":-36.1},
{"s":"ib","t":0.190,"v":-36.5},{"s":"ib","t":0.191,"v":-36.1},{"s":"ib","t":0.192,"v":-34.7},{"s":"ib","t":0.193,"v":-32.5},{"s":"ib","t":0.194,"v":-29.5},{"s":"ib","t":0.195,"v":-25.8},{"s":"ib","t":0.196,"v":-21.5},{"s":"ib","t":0.197,"v":-16.6},{"s":"ib","t":0.198,"v":-11.3},{"s":"ib","t":0.199,"v":-5.7},{"s":"ib","t":0.200,"v":0},
{"s":"ic","t":0.100,"v":29.5},{"s":"ic","t":0.101,"v":32.5},{"s":"ic","t":0.102,"v":34.7},{"s":"ic","t":0.103,"v":36.1},{"s":"ic","t":0.104,"v":36.5},{"s":"ic","t":0.105,"v":36.1},{"s":"ic","t":0.106,"v":34.7},{"s":"ic","t":0.107,"v":32.5},{"s":"ic","t":0.108,"v":29.5},{"s":"ic","t":0.109,"v":25.8},
{"s":"ic","t":0.110,"v":21.5},{"s":"ic","t":0.111,"v":16.6},{"s":"ic","t":0.112,"v":11.3},{"s":"ic","t":0.113,"v":5.7},{"s":"ic","t":0.114,"v":0},{"s":"ic","t":0.115,"v":-5.7},{"s":"ic","t":0.116,"v":-11.3},{"s":"ic","t":0.117,"v":-16.6},{"s":"ic","t":0.118,"v":-21.5},{"s":"ic","t":0.119,"v":-25.8},
{"s":"ic","t":0.120,"v":-29.5},{"s":"ic","t":0.121,"v":-32.5},{"s":"ic","t":0.122,"v":-34.7},{"s":"ic","t":0.123,"v":-36.1},{"s":"ic","t":0.124,"v":-36.5},{"s":"ic","t":0.125,"v":-36.1},{"s":"ic","t":0.126,"v":-34.7},{"s":"ic","t":0.127,"v":-32.5},{"s":"ic","t":0.128,"v":-29.5},{"s":"ic","t":0.129,"v":-25.8},
{"s":"ic","t":0.130,"v":-21.5},{"s":"ic","t":0.131,"v":-16.6},{"s":"ic","t":0.132,"v":-11.3},{"s":"ic","t":0.133,"v":-5.7},{"s":"ic","t":0.134,"v":0},{"s":"ic","t":0.135,"v":5.7},{"s":"ic","t":0.136,"v":11.3},{"s":"ic","t":0.137,"v":16.6},{"s":"ic","t":0.138,"v":21.5},{"s":"ic","t":0.139,"v":25.8},
{"s":"ic","t":0.140,"v":29.5},{"s":"ic","t":0.141,"v":32.5},{"s":"ic","t":0.142,"v":34.7},{"s":"ic","t":0.143,"v":36.1},{"s":"ic","t":0.144,"v":36.5},{"s":"ic","t":0.145,"v":36.1},{"s":"ic","t":0.146,"v":34.7},{"s":"ic","t":0.147,"v":32.5},{"s":"ic","t":0.148,"v":29.5},{"s":"ic","t":0.149,"v":25.8},
{"s":"ic","t":0.150,"v":21.5},{"s":"ic","t":0.151,"v":16.6},{"s":"ic","t":0.152,"v":11.3},{"s":"ic","t":0.153,"v":5.7},{"s":"ic","t":0.154,"v":0},{"s":"ic","t":0.155,"v":-5.7},{"s":"ic","t":0.156,"v":-11.3},{"s":"ic","t":0.157,"v":-16.6},{"s":"ic","t":0.158,"v":-21.5},{"s":"ic","t":0.159,"v":-25.8},
{"s":"ic","t":0.160,"v":-29.5},{"s":"ic","t":0.161,"v":-32.5},{"s":"ic","t":0.162,"v":-34.7},{"s":"ic","t":0.163,"v":-36.1},{"s":"ic","t":0.164,"v":-36.5},{"s":"ic","t":0.165,"v":-36.1},{"s":"ic","t":0.166,"v":-34.7},{"s":"ic","t":0.167,"v":-32.5},{"s":"ic","t":0.168,"v":-29.5},{"s":"ic","t":0.169,"v":-25.8},
{"s":"ic","t":0.170,"v":-21.5},{"s":"ic","t":0.171,"v":-16.6},{"s":"ic","t":0.172,"v":-11.3},{"s":"ic","t":0.173,"v":-5.7},{"s":"ic","t":0.174,"v":0},{"s":"ic","t":0.175,"v":5.7},{"s":"ic","t":0.176,"v":11.3},{"s":"ic","t":0.177,"v":16.6},{"s":"ic","t":0.178,"v":21.5},{"s":"ic","t":0.179,"v":25.8},
{"s":"ic","t":0.180,"v":29.5},{"s":"ic","t":0.181,"v":32.5},{"s":"ic","t":0.182,"v":34.7},{"s":"ic","t":0.183,"v":36.1},{"s":"ic","t":0.184,"v":36.5},{"s":"ic","t":0.185,"v":36.1},{"s":"ic","t":0.186,"v":34.7},{"s":"ic","t":0.187,"v":32.5},{"s":"ic","t":0.188,"v":29.5},{"s":"ic","t":0.189,"v":25.8},
{"s":"ic","t":0.190,"v":21.5},{"s":"ic","t":0.191,"v":16.6},{"s":"ic","t":0.192,"v":11.3},{"s":"ic","t":0.193,"v":5.7},{"s":"ic","t":0.194,"v":0},{"s":"ic","t":0.195,"v":-5.7},{"s":"ic","t":0.196,"v":-11.3},{"s":"ic","t":0.197,"v":-16.6},{"s":"ic","t":0.198,"v":-21.5},{"s":"ic","t":0.199,"v":-25.8},{"s":"ic","t":0.200,"v":-29.5}
],
"te_a": [
{"t":0.1000,"v":205.1},{"t":0.1005,"v":197.3},{"t":0.1010,"v":204.7},{"t":0.1015,"v":196.8},{"t":0.1020,"v":204.2},{"t":0.1025,"v":196.4},{"t":0.1030,"v":203.8},{"t":0.1035,"v":196.0},{"t":0.1040,"v":203.5},{"t":0.1045,"v":195.7},
{"t":0.1050,"v":203.1},{"t":0.1055,"v":195.4},{"t":0.1060,"v":202.8},{"t":0.1065,"v":195.1},{"t":0.1070,"v":202.6},{"t":0.1075,"v":194.9},{"t":0.1080,"v":202.4},{"t":0.1085,"v":194.8},{"t":0.1090,"v":202.3},{"t":0.1095,"v":194.7},
{"t":0.1100,"v":202.3},{"t":0.1105,"v":194.7},{"t":0.1110,"v":202.3},{"t":0.1115,"v":194.8},{"t":0.1120,"v":202.4},{"t":0.1125,"v":194.9},{"t":0.1130,"v":202.6},{"t":0.1135,"v":195.1},{"t":0.1140,"v":202.8},{"t":0.1145,"v":195.4},
{"t":0.1150,"v":203.1},{"t":0.1155,"v":195.7},{"t":0.1160,"v":203.5},{"t":0.1165,"v":196.0},{"t":0.1170,"v":203.8},{"t":0.1175,"v":196.4},{"t":0.1180,"v":204.2},{"t":0.1185,"v":196.8},{"t":0.1190,"v":204.7},{"t":0.1195,"v":197.3},
{"t":0.1200,"v":205.1},{"t":0.1205,"v":197.7},{"t":0.1210,"v":205.5},{"t":0.1215,"v":198.2},{"t":0.1220,"v":206.0},{"t":0.1225,"v":198.6},{"t":0.1230,"v":206.4},{"t":0.1235,"v":199.0},{"t":0.1240,"v":206.8},{"t":0.1245,"v":199.3},
{"t":0.1250,"v":207.1},{"t":0.1255,"v":199.6},{"t":0.1260,"v":207.4},{"t":0.1265,"v":199.9},{"t":0.1270,"v":207.6},{"t":0.1275,"v":200.1},{"t":0.1280,"v":207.8},{"t":0.1285,"v":200.2},{"t":0.1290,"v":207.9},{"t":0.1295,"v":200.3},
{"t":0.1300,"v":207.9},{"t":0.1305,"v":200.3},{"t":0.1310,"v":207.9},{"t":0.1315,"v":200.2},{"t":0.1320,"v":207.8},{"t":0.1325,"v":200.1},{"t":0.1330,"v":207.6},{"t":0.1335,"v":199.9},{"t":0.1340,"v":207.4},{"t":0.1345,"v":199.6},
{"t":0.1350,"v":207.1},{"t":0.1355,"v":199.3},{"t":0.1360,"v":206.8},{"t":0.1365,"v":199.0},{"t":0.1370,"v":206.4},{"t":0.1375,"v":198.6},{"t":0.1380,"v":206.0},{"t":0.1385,"v":198.2},{"t":0.1390,"v":205.5},{"t":0.1395,"v":197.7},
{"t":0.1400,"v":205.1},{"t":0.1405,"v":197.3},{"t":0.1410,"v":204.7},{"t":0.1415,"v":196.8},{"t":0.1420,"v":204.2},{"t":0.1425,"v":196.4},{"t":0.1430,"v":203.8},{"t":0.1435,"v":196.0},{"t":0.1440,"v":203.5},{"t":0.1445,"v":195.7},
{"t":0.1450,"v":203.1},{"t":0.1455,"v":195.4},{"t":0.1460,"v":202.8},{"t":0.1465,"v":195.1},{"t":0.1470,"v":202.6},{"t":0.1475,"v":194.9},{"t":0.1480,"v":202.4},{"t":0.1485,"v":194.8},{"t":0.1490,"v":202.3},{"t":0.1495,"v":194.7},
{"t":0.1500,"v":202.3},{"t":0.1505,"v":194.7},{"t":0.1510,"v":202.3},{"t":0.1515,"v":194.8},{"t":0.1520,"v":202.4},{"t":0.1525,"v":194.9},{"t":0.1530,"v":202.6},{"t":0.1535,"v":195.1},{"t":0.1540,"v":202.8},{"t":0.1545,"v":195.4},
{"t":0.1550,"v":203.1},{"t":0.1555,"v":195.7},{"t":0.1560,"v":203.5},{"t":0.1565,"v":196.0},{"t":0.1570,"v":203.8},{"t":0.1575,"v":196.4},{"t":0.1580,"v":204.2},{"t":0.1585,"v":196.8},{"t":0.1590,"v":204.7},{"t":0.1595,"v":197.3},
{"t":0.1600,"v":205.1},{"t":0.1605,"v":197.7},{"t":0.1610,"v":205.5},{"t":0.1615,"v":198.2},{"t":0.1620,"v":206.0},{"t":0.1625,"v":198.6},{"t":0.1630,"v":206.4},{"t":0.1635,"v":199.0},{"t":0.1640,"v":206.8},{"t":0.1645,"v":199.3},
{"t":0.1650,"v":207.1},{"t":0.1655,"v":199.6},{"t":0.1660,"v":207.4},{"t":0.1665,"v":199.9},{"t":0.1670,"v":207.6},{"t":0.1675,"v":200.1},{"t":0.1680,"v":207.8},{"t":0.1685,"v":200.2},{"t":0.1690,"v":207.9},{"t":0.1695,"v":200.3},
{"t":0.1700,"v":207.9},{"t":0.1705,"v":200.3},{"t":0.1710,"v":207.9},{"t":0.1715,"v":200.2},{"t":0.1720,"v":207.8},{"t":0.1725,"v":200.1},{"t":0.1730,"v":207.6},{"t":0.1735,"v":199.9},{"t":0.1740,"v":207.4},{"t":0.1745,"v":199.6},
{"t":0.1750,"v":207.1},{"t":0.1755,"v":199.3},{"t":0.1760,"v":206.8},{"t":0.1765,"v":199.0},{"t":0.1770,"v":206.4},{"t":0.1775,"v":198.6},{"t":0.1780,"v":206.0},{"t":0.1785,"v":198.2},{"t":0.1790,"v":205.5},{"t":0.1795,"v":197.7},
{"t":0.1800,"v":205.1},{"t":0.1805,"v":197.3},{"t":0.1810,"v":204.7},{"t":0.1815,"v":196.8},{"t":0.1820,"v":204.2},{"t":0.1825,"v":196.4},{"t":0.1830,"v":203.8},{"t":0.1835,"v":196.0},{"t":0.1840,"v":203.5},{"t":0.1845,"v":195.7},
{"t":0.1850,"v":203.1},{"t":0.1855,"v":195.4},{"t":0.1860,"v":202.8},{"t":0.1865,"v":195.1},{"t":0.1870,"v":202.6},{"t":0.1875,"v":194.9},{"t":0.1880,"v":202.4},{"t":0.1885,"v":194.8},{"t":0.1890,"v":202.3},{"t":0.1895,"v":194.7},
{"t":0.1900,"v":202.3},{"t":0.1905,"v":194.7},{"t":0.1910,"v":202.3},{"t":0.1915,"v":194.8},{"t":0.1920,"v":202.4},{"t":0.1925,"v":194.9},{"t":0.1930,"v":202.6},{"t":0.1935,"v":195.1},{"t":0.1940,"v":202.8},{"t":0.1945,"v":195.4},
{"t":0.1950,"v":203.1},{"t":0.1955,"v":195.7},{"t":0.1960,"v":203.5},{"t":0.1965,"v":196.0},{"t":0.1970,"v":203.8},{"t":0.1975,"v":196.4},{"t":0.1980,"v":204.2},{"t":0.1985,"v":196.8},{"t":0.1990,"v":204.7},{"t":0.1995,"v":197.3},{"t":0.2000,"v":205.1}
],
"te_b": [
{"t":0.1000,"v":205.0},{"t":0.1005,"v":197.6},{"t":0.1010,"v":205.4},{"t":0.1015,"v":198.0},{"t":0.1020,"v":205.8},{"t":0.1025,"v":198.4},{"t":0.1030,"v":206.2},{"t":0.1035,"v":198.8},{"t":0.1040,"v":206.6},{"t":0.1045,"v":199.2},
{"t":0.1050,"v":206.9},{"t":0.1055,"v":199.5},{"t":0.1060,"v":207.3},{"t":0.1065,"v":199.8},{"t":0.1070,"v":207.6},{"t":0.1075,"v":200.1},{"t":0.1080,"v":207.8},{"t":0.1085,"v":200.3},{"t":0.1090,"v":208.0},{"t":0.1095,"v":200.5},
{"t":0.1100,"v":208.2},{"t":0.1105,"v":200.6},{"t":0.1110,"v":208.3},{"t":0.1115,"v":200.7},{"t":0.1120,"v":208.3},{"t":0.1125,"v":200.7},{"t":0.1130,"v":208.3},{"t":0.1135,"v":200.6},{"t":0.1140,"v":208.2},{"t":0.1145,"v":200.5},
{"t":0.1150,"v":208.0},{"t":0.1155,"v":200.3},{"t":0.1160,"v":207.8},{"t":0.1165,"v":200.1},{"t":0.1170,"v":207.6},{"t":0.1175,"v":199.8},{"t":0.1180,"v":207.3},{"t":0.1185,"v":199.5},{"t":0.1190,"v":206.9},{"t":0.1195,"v":199.2},
{"t":0.1200,"v":206.6},{"t":0.1205,"v":198.8},{"t":0.1210,"v":206.2},{"t":0.1215,"v":198.4},{"t":0.1220,"v":205.8},{"t":0.1225,"v":198.0},{"t":0.1230,"v":205.4},{"t":0.1235,"v":197.6},{"t":0.1240,"v":205.0},{"t":0.1245,"v":197.2},
{"t":0.1250,"v":204.7},{"t":0.1255,"v":196.9},{"t":0.1260,"v":204.3},{"t":0.1265,"v":196.6},{"t":0.1270,"v":204.0},{"t":0.1275,"v":196.3},{"t":0.1280,"v":203.8},{"t":0.1285,"v":196.1},{"t":0.1290,"v":203.6},{"t":0.1295,"v":195.9},
{"t":0.1300,"v":203.4},{"t":0.1305,"v":195.8},{"t":0.1310,"v":203.3},{"t":0.1315,"v":195.7},{"t":0.1320,"v":203.3},{"t":0.1325,"v":195.7},{"t":0.1330,"v":203.3},{"t":0.1335,"v":195.8},{"t":0.1340,"v":203.4},{"t":0.1345,"v":195.9},
{"t":0.1350,"v":203.6},{"t":0.1355,"v":196.1},{"t":0.1360,"v":203.8},{"t":0.1365,"v":196.3},{"t":0.1370,"v":204.0},{"t":0.1375,"v":196.6},{"t":0.1380,"v":204.3},{"t":0.1385,"v":196.9},{"t":0.1390,"v":204.7},{"t":0.1395,"v":197.2},
{"t":0.1400,"v":205.0},{"t":0.1405,"v":197.6},{"t":0.1410,"v":205.4},{"t":0.1415,"v":198.0},{"t":0.1420,"v":205.8},{"t":0.1425,"v":198.4},{"t":0.1430,"v":206.2},{"t":0.1435,"v":198.8},{"t":0.1440,"v":206.6},{"t":0.1445,"v":199.2},
{"t":0.1450,"v":206.9},{"t":0.1455,"v":199.5},{"t":0.1460,"v":207.3},{"t":0.1465,"v":199.8},{"t":0.1470,"v":207.6},{"t":0.1475,"v":200.1},{"t":0.1480,"v":207.8},{"t":0.1485,"v":200.3},{"t":0.1490,"v":208.0},{"t":0.1495,"v":200.5},
{"t":0.1500,"v":208.2},{"t":0.1505,"v":200.6},{"t":0.1510,"v":208.3},{"t":0.1515,"v":200.7},{"t":0.1520,"v":208.3},{"t":0.1525,"v":200.7},{"t":0.1530,"v":208.3},{"t":0.1535,"v":200.6},{"t":0.1540,"v":208.2},{"t":0.1545,"v":200.5},
{"t":0.1550,"v":208.0},{"t":0.1555,"v":200.3},{"t":0.1560,"v":207.8},{"t":0.1565,"v":200.1},{"t":0.1570,"v":207.6},{"t":0.1575,"v":199.8},{"t":0.1580,"v":207.3},{"t":0.1585,"v":199.5},{"t":0.1590,"v":206.9},{"t":0.1595,"v":199.2},
{"t":0.1600,"v":206.6},{"t":0.1605,"v":198.8},{"t":0.1610,"v":206.2},{"t":0.1615,"v":198.4},{"t":0.1620,"v":205.8},{"t":0.1625,"v":198.0},{"t":0.1630,"v":205.4},{"t":0.1635,"v":197.6},{"t":0.1640,"v":205.0},{"t":0.1645,"v":197.2},
{"t":0.1650,"v":204.7},{"t":0.1655,"v":196.9},{"t":0.1660,"v":204.3},{"t":0.1665,"v":196.6},{"t":0.1670,"v":204.0},{"t":0.1675,"v":196.3},{"t":0.1680,"v":203.8},{"t":0.1685,"v":196.1},{"t":0.1690,"v":203.6},{"t":0.1695,"v":195.9},
{"t":0.1700,"v":203.4},{"t":0.1705,"v":195.8},{"t":0.1710,"v":203.3},{"t":0.1715,"v":195.7},{"t":0.1720,"v":203.3},{"t":0.1725,"v":195.7},{"t":0.1730,"v":203.3},{"t":0.1735,"v":195.8},{"t":0.1740,"v":203.4},{"t":0.1745,"v":195.9},
{"t":0.1750,"v":203.6},{"t":0.1755,"v":196.1},{"t":0.1760,"v":203.8},{"t":0.1765,"v":196.3},{"t":0.1770,"v":204.0},{"t":0.1775,"v":196.6},{"t":0.1780,"v":204.3},{"t":0.1785,"v":196.9},{"t":0.1790,"v":204.7},{"t":0.1795,"v":197.2},
{"t":0.1800,"v":205.0},{"t":0.1805,"v":197.6},{"t":0.1810,"v":205.4},{"t":0.1815,"v":198.0},{"t":0.1820,"v":205.8},{"t":0.1825,"v":198.4},{"t":0.1830,"v":206.2},{"t":0.1835,"v":198.8},{"t":0.1840,"v":206.6},{"t":0.1845,"v":199.2},
{"t":0.1850,"v":206.9},{"t":0.1855,"v":199.5},{"t":0.1860,"v":207.3},{"t":0.1865,"v":199.8},{"t":0.1870,"v":207.6},{"t":0.1875,"v":200.1},{"t":0.1880,"v":207.8},{"t":0.1885,"v":200.3},{"t":0.1890,"v":208.0},{"t":0.1895,"v":200.5},
{"t":0.1900,"v":208.2},{"t":0.1905,"v":200.6},{"t":0.1910,"v":208.3},{"t":0.1915,"v":200.7},{"t":0.1920,"v":208.3},{"t":0.1925,"v":200.7},{"t":0.1930,"v":208.3},{"t":0.1935,"v":200.6},{"t":0.1940,"v":208.2},{"t":0.1945,"v":200.5},
{"t":0.1950,"v":208.0},{"t":0.1955,"v":200.3},{"t":0.1960,"v":207.8},{"t":0.1965,"v":200.1},{"t":0.1970,"v":207.6},{"t":0.1975,"v":199.8},{"t":0.1980,"v":207.3},{"t":0.1985,"v":199.5},{"t":0.1990,"v":206.9},{"t":0.1995,"v":199.2},{"t":0.2000,"v":206.6}
],
"te_c": [
{"t":0.1000,"v":205.5},{"t":0.1005,"v":196.5},{"t":0.1010,"v":206.3},{"t":0.1015,"v":197.3},{"t":0.1020,"v":206.5},{"t":0.1025,"v":197.5},{"t":0.1030,"v":205.8},{"t":0.1035,"v":196.8},{"t":0.1040,"v":204.9},{"t":0.1045,"v":195.9},
{"t":0.1050,"v":204.5},{"t":0.1055,"v":195.5},{"t":0.1060,"v":205.0},{"t":0.1065,"v":196.0},{"t":0.1070,"v":205.5},{"t":0.1075,"v":196.5},{"t":0.1080,"v":206.3},{"t":0.1085,"v":197.3},{"t":0.1090,"v":206.5},{"t":0.1095,"v":197.5},
{"t":0.1100,"v":205.8},{"t":0.1105,"v":196.8},{"t":0.1110,"v":204.9},{"t":0.1115,"v":195.9},{"t":0.1120,"v":204.5},{"t":0.1125,"v":195.5},{"t":0.1130,"v":205.0},{"t":0.1135,"v":196.0},{"t":0.1140,"v":205.5},{"t":0.1145,"v":196.5},
{"t":0.1150,"v":206.3},{"t":0.1155,"v":197.3},{"t":0.1160,"v":206.5},{"t":0.1165,"v":197.5},{"t":0.1170,"v":205.8},{"t":0.1175,"v":196.8},{"t":0.1180,"v":204.9},{"t":0.1185,"v":195.9},{"t":0.1190,"v":204.5},{"t":0.1195,"v":195.5},
{"t":0.1200,"v":205.0},{"t":0.1205,"v":196.0},{"t":0.1210,"v":205.5},{"t":0.1215,"v":196.5},{"t":0.1220,"v":206.3},{"t":0.1225,"v":197.3},{"t":0.1230,"v":206.5},{"t":0.1235,"v":197.5},{"t":0.1240,"v":205.8},{"t":0.1245,"v":196.8},
{"t":0.1250,"v":204.9},{"t":0.1255,"v":195.9},{"t":0.1260,"v":204.5},{"t":0.1265,"v":195.5},{"t":0.1270,"v":205.0},{"t":0.1275,"v":196.0},{"t":0.1280,"v":205.5},{"t":0.1285,"v":196.5},{"t":0.1290,"v":206.3},{"t":0.1295,"v":197.3},
{"t":0.1300,"v":206.5},{"t":0.1305,"v":197.5},{"t":0.1310,"v":205.8},{"t":0.1315,"v":196.8},{"t":0.1320,"v":204.9},{"t":0.1325,"v":195.9},{"t":0.1330,"v":204.5},{"t":0.1335,"v":195.5},{"t":0.1340,"v":205.0},{"t":0.1345,"v":196.0},
{"t":0.1350,"v":205.5},{"t":0.1355,"v":196.5},{"t":0.1360,"v":206.3},{"t":0.1365,"v":197.3},{"t":0.1370,"v":206.5},{"t":0.1375,"v":197.5},{"t":0.1380,"v":205.8},{"t":0.1385,"v":196.8},{"t":0.1390,"v":204.9},{"t":0.1395,"v":195.9},
{"t":0.1400,"v":204.5},{"t":0.1405,"v":195.5},{"t":0.1410,"v":205.0},{"t":0.1415,"v":196.0},{"t":0.1420,"v":205.5},{"t":0.1425,"v":196.5},{"t":0.1430,"v":206.3},{"t":0.1435,"v":197.3},{"t":0.1440,"v":206.5},{"t":0.1445,"v":197.5},
{"t":0.1450,"v":205.8},{"t":0.1455,"v":196.8},{"t":0.1460,"v":204.9},{"t":0.1465,"v":195.9},{"t":0.1470,"v":204.5},{"t":0.1475,"v":195.5},{"t":0.1480,"v":205.0},{"t":0.1485,"v":196.0},{"t":0.1490,"v":205.5},{"t":0.1495,"v":196.5},
{"t":0.1500,"v":206.3},{"t":0.1505,"v":197.3},{"t":0.1510,"v":206.5},{"t":0.1515,"v":197.5},{"t":0.1520,"v":205.8},{"t":0.1525,"v":196.8},{"t":0.1530,"v":204.9},{"t":0.1535,"v":195.9},{"t":0.1540,"v":204.5},{"t":0.1545,"v":195.5},
{"t":0.1550,"v":205.0},{"t":0.1555,"v":196.0},{"t":0.1560,"v":205.5},{"t":0.1565,"v":196.5},{"t":0.1570,"v":206.3},{"t":0.1575,"v":197.3},{"t":0.1580,"v":206.5},{"t":0.1585,"v":197.5},{"t":0.1590,"v":205.8},{"t":0.1595,"v":196.8},
{"t":0.1600,"v":204.9},{"t":0.1605,"v":195.9},{"t":0.1610,"v":204.5},{"t":0.1615,"v":195.5},{"t":0.1620,"v":205.0},{"t":0.1625,"v":196.0},{"t":0.1630,"v":205.5},{"t":0.1635,"v":196.5},{"t":0.1640,"v":206.3},{"t":0.1645,"v":197.3},
{"t":0.1650,"v":206.5},{"t":0.1655,"v":197.5},{"t":0.1660,"v":205.8},{"t":0.1665,"v":196.8},{"t":0.1670,"v":204.9},{"t":0.1675,"v":195.9},{"t":0.1680,"v":204.5},{"t":0.1685,"v":195.5},{"t":0.1690,"v":205.0},{"t":0.1695,"v":196.0},
{"t":0.1700,"v":205.5},{"t":0.1705,"v":196.5},{"t":0.1710,"v":206.3},{"t":0.1715,"v":197.3},{"t":0.1720,"v":206.5},{"t":0.1725,"v":197.5},{"t":0.1730,"v":205.8},{"t":0.1735,"v":196.8},{"t":0.1740,"v":204.9},{"t":0.1745,"v":195.9},
{"t":0.1750,"v":204.5},{"t":0.1755,"v":195.5},{"t":0.1760,"v":205.0},{"t":0.1765,"v":196.0},{"t":0.1770,"v":205.5},{"t":0.1775,"v":196.5},{"t":0.1780,"v":206.3},{"t":0.1785,"v":197.3},{"t":0.1790,"v":206.5},{"t":0.1795,"v":197.5},
{"t":0.1800,"v":205.8},{"t":0.1805,"v":196.8},{"t":0.1810,"v":204.9},{"t":0.1815,"v":195.9},{"t":0.1820,"v":204.5},{"t":0.1825,"v":195.5},{"t":0.1830,"v":205.0},{"t":0.1835,"v":196.0},{"t":0.1840,"v":205.5},{"t":0.1845,"v":196.5},
{"t":0.1850,"v":206.3},{"t":0.1855,"v":197.3},{"t":0.1860,"v":206.5},{"t":0.1865,"v":197.5},{"t":0.1870,"v":205.8},{"t":0.1875,"v":196.8},{"t":0.1880,"v":204.9},{"t":0.1885,"v":195.9},{"t":0.1890,"v":204.5},{"t":0.1895,"v":195.5},
{"t":0.1900,"v":205.0},{"t":0.1905,"v":196.0},{"t":0.1910,"v":205.5},{"t":0.1915,"v":196.5},{"t":0.1920,"v":206.3},{"t":0.1925,"v":197.3},{"t":0.1930,"v":206.5},{"t":0.1935,"v":197.5},{"t":0.1940,"v":205.8},{"t":0.1945,"v":196.8},
{"t":0.1950,"v":204.9},{"t":0.1955,"v":195.9},{"t":0.1960,"v":204.5},{"t":0.1965,"v":195.5},{"t":0.1970,"v":205.0},{"t":0.1975,"v":196.0},{"t":0.1980,"v":205.5},{"t":0.1985,"v":196.5},{"t":0.1990,"v":206.3},{"t":0.1995,"v":197.3},{"t":0.2000,"v":206.5}
],
"fia_a": [{"f":0,"m":1.0},{"f":0.8,"m":0.3},{"f":5,"m":0.1},{"f":20,"m":0.1},{"f":23,"m":0.3},{"f":24,"m":1.2},{"f":25,"m":38.72},{"f":26,"m":1.2},{"f":27,"m":0.3},{"f":30,"m":0.1},{"f":74,"m":0.1},{"f":75,"m":0.2},{"f":76,"m":0.1},{"f":124,"m":0.1},{"f":125,"m":0.35},{"f":126,"m":0.1},{"f":174,"m":0.1},{"f":175,"m":0.25},{"f":176,"m":0.1},{"f":200,"m":0.1}],
"fia_b": [{"f":0,"m":0.8},{"f":0.8,"m":0.2},{"f":5,"m":0.1},{"f":23,"m":0.3},{"f":24,"m":1.0},{"f":25,"m":36.46},{"f":26,"m":1.0},{"f":27,"m":0.3},{"f":30,"m":0.1},{"f":124,"m":0.1},{"f":125,"m":0.2},{"f":126,"m":0.1},{"f":200,"m":0.1}],
"fia_c": [{"f":0,"m":0.8},{"f":0.8,"m":0.2},{"f":5,"m":0.1},{"f":23,"m":0.3},{"f":24,"m":1.0},{"f":25,"m":36.54},{"f":26,"m":1.0},{"f":27,"m":0.3},{"f":30,"m":0.1},{"f":49,"m":0.1},{"f":50,"m":0.45},{"f":51,"m":0.1},{"f":124,"m":0.1},{"f":125,"m":0.2},{"f":126,"m":0.1},{"f":200,"m":0.1}],
"fte_a": [{"f":0,"m":6},{"f":0.8,"m":0.35},{"f":1.5,"m":0.25},{"f":2.5,"m":0.45},{"f":3.5,"m":0.2},{"f":4.5,"m":0.35},{"f":5.5,"m":0.18},{"f":6.5,"m":0.28},{"f":7.5,"m":0.15},{"f":8.5,"m":0.22},{"f":9.5,"m":0.12},{"f":10.5,"m":0.18},{"f":12,"m":0.1},{"f":14,"m":0.12},{"f":16.5,"m":0.06},{"f":17.5,"m":1.33},{"f":18.5,"m":0.06},{"f":24,"m":0.15},{"f":25,"m":4.24},{"f":26,"m":0.18},{"f":28,"m":0.1},{"f":30,"m":0.06},{"f":34,"m":0.08},{"f":40,"m":0.05},{"f":49,"m":0.06},{"f":50,"m":1.08},{"f":51,"m":0.06},{"f":60,"m":0.04},{"f":74,"m":0.05},{"f":75,"m":0.62},{"f":76,"m":0.05},{"f":90,"m":0.04},{"f":99,"m":0.05},{"f":100,"m":0.54},{"f":101,"m":0.05},{"f":110,"m":0.04},{"f":116,"m":0.05},{"f":117,"m":0.24},{"f":118,"m":0.05},{"f":124,"m":0.04},{"f":125,"m":0.1},{"f":126,"m":0.04},{"f":140,"m":0.04},{"f":147,"m":0.1},{"f":148,"m":0.25},{"f":149,"m":0.45},{"f":150,"m":1.55},{"f":151,"m":0.4},{"f":152,"m":0.2},{"f":153,"m":0.08},{"f":160,"m":0.04},{"f":180,"m":0.04},{"f":200,"m":0.03}],
"fte_b": [{"f":0,"m":6},{"f":0.8,"m":0.3},{"f":1.5,"m":0.2},{"f":2.5,"m":0.28},{"f":3.5,"m":0.18},{"f":4.5,"m":0.22},{"f":5.5,"m":0.15},{"f":6.5,"m":0.18},{"f":7.5,"m":0.12},{"f":8.5,"m":0.15},{"f":10,"m":0.1},{"f":12,"m":0.12},{"f":14,"m":0.08},{"f":16.5,"m":0.05},{"f":17.5,"m":1.13},{"f":18.5,"m":0.05},{"f":24,"m":0.08},{"f":25,"m":3.82},{"f":26,"m":0.1},{"f":30,"m":0.05},{"f":49,"m":0.05},{"f":50,"m":1.33},{"f":51,"m":0.05},{"f":74,"m":0.04},{"f":75,"m":0.68},{"f":76,"m":0.04},{"f":99,"m":0.04},{"f":100,"m":0.61},{"f":101,"m":0.04},{"f":116,"m":0.04},{"f":117,"m":0.17},{"f":118,"m":0.04},{"f":124,"m":0.04},{"f":125,"m":0.12},{"f":126,"m":0.04},{"f":147,"m":0.08},{"f":148,"m":0.2},{"f":149,"m":0.35},{"f":150,"m":1.54},{"f":151,"m":0.35},{"f":152,"m":0.15},{"f":153,"m":0.06},{"f":170,"m":0.03},{"f":200,"m":0.03}],
"fte_c": [{"f":0,"m":6},{"f":0.8,"m":0.05},{"f":5,"m":0.03},{"f":16.5,"m":0.03},{"f":17.5,"m":0.17},{"f":18.5,"m":0.03},{"f":25,"m":0.05},{"f":49,"m":0.03},{"f":49.5,"m":0.1},{"f":50,"m":1.5},{"f":50.5,"m":0.1},{"f":51,"m":0.03},{"f":74,"m":0.03},{"f":74.5,"m":0.1},{"f":75,"m":1.37},{"f":75.5,"m":0.1},{"f":76,"m":0.03},{"f":99,"m":0.03},{"f":100,"m":0.3},{"f":101,"m":0.03},{"f":116,"m":0.03},{"f":117,"m":0.51},{"f":118,"m":0.03},{"f":125,"m":0.06},{"f":148,"m":0.05},{"f":149,"m":0.25},{"f":150,"m":0.9},{"f":151,"m":0.25},{"f":152,"m":0.05},{"f":200,"m":0.03}],
"tip_a": [{"f":25,"m":38.7202,"xs":"25","ys":"38.7202"}],
"tip_b": [{"f":25,"m":36.4621,"xs":"25","ys":"36.4621"}],
"tip_c": [{"f":25,"m":36.5437,"xs":"25","ys":"36.5437"}],
"thd_ia_a": [{"txt":"THD=14.52%"}],
"thd_ia_b": [{"txt":"THD=13.54%"}],
"thd_ia_c": [{"txt":"THD=10.95%"}],
"thd_te_a": [{"txt":"THD=1.34%"}],
"thd_te_b": [{"txt":"THD=1.30%"}],
"thd_te_c": [{"txt":"THD=1.21%"}]
},
"vconcat": [
{
"columns": 2, "bounds": "flush", "spacing": {"row": 84, "column": 75},
"resolve": {"scale": {"color": "independent", "strokeDash": "independent"}},
"title": {"text": "（a）传统无电流传感器 MTPA 控制方法", "orient": "bottom", "anchor": "middle", "font": "Noto Sans CJK SC", "fontSize": 19, "fontWeight": "normal", "color": "#111", "offset": 34},
"concat": [
{"width": 228, "height": 119, "data": {"name": "cur_a"},
 "mark": {"type": "line", "strokeWidth": 1.4},
 "encoding": {
  "x": {"field": "t", "type": "quantitative", "scale": {"domain": [0.1, 0.2], "nice": false, "zero": false}, "axis": {"values": [0.1, 0.15, 0.2], "format": ".2f", "title": "t/s", "tickCount": 10, "gridOpacity": {"condition": {"test": "datum.value < 0.11 || datum.value > 0.19", "value": 0}, "value": 0.85}}},
  "y": {"field": "v", "type": "quantitative", "scale": {"domain": [-60, 60], "nice": false}, "axis": {"values": [-50, 0, 50], "format": "d", "tickCount": 10, "title": "iabc/A"}},
  "color": {"field": "s", "type": "nominal", "scale": {"domain": ["ia", "ib", "ic"], "range": ["#3461b5", "#e8262d", "#111111"]}, "legend": {"orient": "none", "legendX": 28, "legendY": -10, "direction": "horizontal", "title": null, "symbolType": "stroke", "symbolSize": 1444, "symbolStrokeWidth": 2, "labelFont": "Liberation Serif", "labelFontSize": 19, "labelFontStyle": "italic", "labelOffset": 4, "columnPadding": 3, "padding": 0}},
  "strokeDash": {"field": "s", "type": "nominal", "scale": {"domain": ["ia", "ib", "ic"], "range": [[1, 0], [2, 1.5], [6, 2.5, 2, 2.5]]}, "legend": {"orient": "none", "legendX": 28, "legendY": -10, "direction": "horizontal", "title": null, "symbolType": "stroke", "symbolSize": 1444, "symbolStrokeWidth": 2, "labelFont": "Liberation Serif", "labelFontSize": 19, "labelFontStyle": "italic", "labelOffset": 4, "columnPadding": 3, "padding": 0}}
 }},
{"width": 228, "height": 119,
 "layer": [
  {"data": {"name": "fia_a"}, "mark": {"type": "line", "color": "#4a78c8", "strokeWidth": 1.2},
   "encoding": {
    "x": {"field": "f", "type": "quantitative", "scale": {"domain": [0, 200], "nice": false}, "axis": {"values": [0, 100, 200], "format": "d", "tickCount": 10, "title": "f/Hz", "gridOpacity": {"condition": {"test": "datum.value < 10 || datum.value > 190", "value": 0}, "value": 0.85}}},
    "y": {"field": "m", "type": "quantitative", "scale": {"domain": [0, 40], "nice": false}, "axis": {"values": [0, 20, 40], "format": "d", "tickCount": 10, "title": "FFT(iₐ)/A", "labelExpr": "datum.value == 0 ? '' : datum.label", "gridOpacity": {"condition": {"test": "datum.value < 1 || datum.value > 39", "value": 0}, "value": 0.85}}}
   }},
  {"data": {"name": "tip_a"}, "mark": {"type": "rect", "fill": "#ffffff", "fillOpacity": 0.92, "stroke": "#a0a0a0", "strokeWidth": 1, "cornerRadius": 3, "xOffset": 3, "x2Offset": 93, "yOffset": -0.5, "y2Offset": 57},
   "encoding": {"x": {"field": "f", "type": "quantitative"}, "x2": {"field": "f"}, "y": {"field": "m", "type": "quantitative"}, "y2": {"field": "m"}}},
  {"data": {"name": "tip_a"}, "mark": {"type": "point", "filled": true, "fill": "#111111", "size": 30, "stroke": "#efe38a", "strokeWidth": 1.5, "opacity": 1},
   "encoding": {"x": {"field": "f", "type": "quantitative"}, "y": {"field": "m", "type": "quantitative"}}},
  {"data": {"name": "tip_a"}, "mark": {"type": "text", "text": ["X", "Y"], "lineHeight": 23.5, "font": "Liberation Serif", "fontStyle": "italic", "fontSize": 19, "color": "#505050", "align": "left", "baseline": "alphabetic", "dx": 5, "dy": 20},
   "encoding": {"x": {"field": "f", "type": "quantitative"}, "y": {"field": "m", "type": "quantitative"}}},
  {"data": {"name": "tip_a"}, "mark": {"type": "text", "text": [":", ":"], "lineHeight": 23.5, "font": "Liberation Serif", "fontSize": 19, "color": "#505050", "align": "center", "baseline": "alphabetic", "dx": 22, "dy": 20},
   "encoding": {"x": {"field": "f", "type": "quantitative"}, "y": {"field": "m", "type": "quantitative"}}},
  {"data": {"name": "tip_a"}, "mark": {"type": "text", "font": "Liberation Serif", "fontSize": 19, "color": "#4d7fd6", "align": "left", "baseline": "alphabetic", "dx": 29, "dy": 20},
   "encoding": {"x": {"field": "f", "type": "quantitative"}, "y": {"field": "m", "type": "quantitative"}, "text": {"field": "xs"}}},
  {"data": {"name": "tip_a"}, "mark": {"type": "text", "font": "Liberation Serif", "fontSize": 19, "color": "#4d7fd6", "align": "left", "baseline": "alphabetic", "dx": 29, "dy": 43.5},
   "encoding": {"x": {"field": "f", "type": "quantitative"}, "y": {"field": "m", "type": "quantitative"}, "text": {"field": "ys"}}},
  {"data": {"name": "thd_ia_a"}, "mark": {"type": "text", "font": "Liberation Serif", "fontSize": 19, "color": "#111", "align": "left", "baseline": "middle"},
   "encoding": {"x": {"datum": 101, "type": "quantitative"}, "y": {"datum": 13.3, "type": "quantitative"}, "text": {"field": "txt"}}}
 ]},
{"width": 228, "height": 119, "data": {"name": "te_a"},
 "mark": {"type": "line", "color": "#a4529e", "strokeWidth": 1},
 "encoding": {
  "x": {"field": "t", "type": "quantitative", "scale": {"domain": [0.1, 0.2], "nice": false, "zero": false}, "axis": {"values": [0.1, 0.15, 0.2], "format": ".2f", "tickCount": 10, "title": "t/s", "gridOpacity": {"condition": {"test": "datum.value < 0.11 || datum.value > 0.19", "value": 0}, "value": 0.85}}},
  "y": {"field": "v", "type": "quantitative", "scale": {"domain": [160, 240], "nice": false, "zero": false}, "axis": {"values": [160, 180, 200, 220, 240], "format": "d", "tickCount": 10, "title": "Tₑ/(N•m)", "gridOpacity": {"condition": {"test": "datum.value < 170 || datum.value > 230", "value": 0}, "value": 0.85}}}
 }},
{"width": 228, "height": 119,
 "layer": [
  {"data": {"name": "fte_a"}, "mark": {"type": "line", "color": "#4a78c8", "strokeWidth": 1.2},
   "encoding": {
    "x": {"field": "f", "type": "quantitative", "scale": {"domain": [0, 200], "nice": false}, "axis": {"values": [0, 100, 200], "format": "d", "tickCount": 10, "title": "f/Hz", "gridOpacity": {"condition": {"test": "datum.value < 10 || datum.value > 190", "value": 0}, "value": 0.85}}},
    "y": {"field": "m", "type": "quantitative", "scale": {"domain": [0, 6], "nice": false}, "axis": {"values": [0, 2, 4, 6], "format": "d", "tickCount": 10, "title": "FFT(Tₑ)(mpu)", "labelExpr": "datum.value == 0 ? '' : datum.label", "gridOpacity": {"condition": {"test": "datum.value < 0.5 || datum.value > 5.5", "value": 0}, "value": 0.85}}}
   }},
  {"data": {"name": "thd_te_a"}, "mark": {"type": "text", "font": "Liberation Serif", "fontSize": 19, "color": "#111", "align": "left", "baseline": "middle"},
   "encoding": {"x": {"datum": 103, "type": "quantitative"}, "y": {"datum": 3.2, "type": "quantitative"}, "text": {"field": "txt"}}}
 ]}
]
},
{
"columns": 2, "bounds": "flush", "spacing": {"row": 84, "column": 75},
"resolve": {"scale": {"color": "independent", "strokeDash": "independent"}},
"title": {"text": "（b）本文无电流传感器 MTPA 控制方法", "orient": "bottom", "anchor": "middle", "font": "Noto Sans CJK SC", "fontSize": 19, "fontWeight": "normal", "color": "#111", "offset": 34},
"concat": [
{"width": 228, "height": 119, "data": {"name": "cur_b"},
 "mark": {"type": "line", "strokeWidth": 1.4},
 "encoding": {
  "x": {"field": "t", "type": "quantitative", "scale": {"domain": [0.1, 0.2], "nice": false, "zero": false}, "axis": {"values": [0.1, 0.15, 0.2], "format": ".2f", "tickCount": 10, "title": "t/s", "gridOpacity": {"condition": {"test": "datum.value < 0.11 || datum.value > 0.19", "value": 0}, "value": 0.85}}},
  "y": {"field": "v", "type": "quantitative", "scale": {"domain": [-60, 60], "nice": false}, "axis": {"values": [-50, 0, 50], "format": "d", "tickCount": 10, "title": "iabc/A"}},
  "color": {"field": "s", "type": "nominal", "scale": {"domain": ["ia", "ib", "ic"], "range": ["#3461b5", "#e8262d", "#111111"]}, "legend": {"orient": "none", "legendX": 28, "legendY": -10, "direction": "horizontal", "title": null, "symbolType": "stroke", "symbolSize": 1444, "symbolStrokeWidth": 2, "labelFont": "Liberation Serif", "labelFontSize": 19, "labelFontStyle": "italic", "labelOffset": 4, "columnPadding": 3, "padding": 0}},
  "strokeDash": {"field": "s", "type": "nominal", "scale": {"domain": ["ia", "ib", "ic"], "range": [[1, 0], [2, 1.5], [6, 2.5, 2, 2.5]]}, "legend": {"orient": "none", "legendX": 28, "legendY": -10, "direction": "horizontal", "title": null, "symbolType": "stroke", "symbolSize": 1444, "symbolStrokeWidth": 2, "labelFont": "Liberation Serif", "labelFontSize": 19, "labelFontStyle": "italic", "labelOffset": 4, "columnPadding": 3, "padding": 0}}
 }},
{"width": 228, "height": 119,
 "layer": [
  {"data": {"name": "fia_b"}, "mark": {"type": "line", "color": "#4a78c8", "strokeWidth": 1.2},
   "encoding": {
    "x": {"field": "f", "type": "quantitative", "scale": {"domain": [0, 200], "nice": false}, "axis": {"values": [0, 100, 200], "format": "d", "tickCount": 10, "title": "f/Hz", "gridOpacity": {"condition": {"test": "datum.value < 10 || datum.value > 190", "value": 0}, "value": 0.85}}},
    "y": {"field": "m", "type": "quantitative", "scale": {"domain": [0, 40], "nice": false}, "axis": {"values": [0, 20, 40], "format": "d", "tickCount": 10, "title": "FFT(iₐ)/A", "gridOpacity": {"condition": {"test": "datum.value < 1 || datum.value > 39", "value": 0}, "value": 0.85}}}
   }},
  {"data": {"name": "tip_b"}, "mark": {"type": "rect", "fill": "#ffffff", "fillOpacity": 0.92, "stroke": "#a0a0a0", "strokeWidth": 1, "cornerRadius": 3, "xOffset": 3, "x2Offset": 93, "yOffset": 0.5, "y2Offset": 57},
   "encoding": {"x": {"field": "f", "type": "quantitative"}, "x2": {"field": "f"}, "y": {"field": "m", "type": "quantitative"}, "y2": {"field": "m"}}},
  {"data": {"name": "tip_b"}, "mark": {"type": "point", "filled": true, "fill": "#111111", "size": 30, "stroke": "#efe38a", "strokeWidth": 1.5, "opacity": 1},
   "encoding": {"x": {"field": "f", "type": "quantitative"}, "y": {"field": "m", "type": "quantitative"}}},
  {"data": {"name": "tip_b"}, "mark": {"type": "text", "text": ["X", "Y"], "lineHeight": 23.5, "font": "Liberation Serif", "fontStyle": "italic", "fontSize": 19, "color": "#505050", "align": "left", "baseline": "alphabetic", "dx": 5, "dy": 21},
   "encoding": {"x": {"field": "f", "type": "quantitative"}, "y": {"field": "m", "type": "quantitative"}}},
  {"data": {"name": "tip_b"}, "mark": {"type": "text", "text": [":", ":"], "lineHeight": 23.5, "font": "Liberation Serif", "fontSize": 19, "color": "#505050", "align": "center", "baseline": "alphabetic", "dx": 22, "dy": 21},
   "encoding": {"x": {"field": "f", "type": "quantitative"}, "y": {"field": "m", "type": "quantitative"}}},
  {"data": {"name": "tip_b"}, "mark": {"type": "text", "font": "Liberation Serif", "fontSize": 19, "color": "#4d7fd6", "align": "left", "baseline": "alphabetic", "dx": 29, "dy": 21},
   "encoding": {"x": {"field": "f", "type": "quantitative"}, "y": {"field": "m", "type": "quantitative"}, "text": {"field": "xs"}}},
  {"data": {"name": "tip_b"}, "mark": {"type": "text", "font": "Liberation Serif", "fontSize": 19, "color": "#4d7fd6", "align": "left", "baseline": "alphabetic", "dx": 29, "dy": 44.5},
   "encoding": {"x": {"field": "f", "type": "quantitative"}, "y": {"field": "m", "type": "quantitative"}, "text": {"field": "ys"}}},
  {"data": {"name": "thd_ia_b"}, "mark": {"type": "text", "font": "Liberation Serif", "fontSize": 19, "color": "#111", "align": "left", "baseline": "middle"},
   "encoding": {"x": {"datum": 101, "type": "quantitative"}, "y": {"datum": 13.3, "type": "quantitative"}, "text": {"field": "txt"}}}
 ]},
{"width": 228, "height": 119, "data": {"name": "te_b"},
 "mark": {"type": "line", "color": "#a4529e", "strokeWidth": 1},
 "encoding": {
  "x": {"field": "t", "type": "quantitative", "scale": {"domain": [0.1, 0.2], "nice": false, "zero": false}, "axis": {"values": [0.1, 0.15, 0.2], "format": ".2f", "tickCount": 10, "title": "t/s", "gridOpacity": {"condition": {"test": "datum.value < 0.11 || datum.value > 0.19", "value": 0}, "value": 0.85}}},
  "y": {"field": "v", "type": "quantitative", "scale": {"domain": [160, 240], "nice": false, "zero": false}, "axis": {"values": [160, 180, 200, 220, 240], "format": "d", "tickCount": 10, "title": "Tₑ/(N•m)", "gridOpacity": {"condition": {"test": "datum.value < 170 || datum.value > 230", "value": 0}, "value": 0.85}}}
 }},
{"width": 228, "height": 119,
 "layer": [
  {"data": {"name": "fte_b"}, "mark": {"type": "line", "color": "#4a78c8", "strokeWidth": 1.2},
   "encoding": {
    "x": {"field": "f", "type": "quantitative", "scale": {"domain": [0, 200], "nice": false}, "axis": {"values": [0, 100, 200], "format": "d", "tickCount": 10, "title": "f/Hz", "gridOpacity": {"condition": {"test": "datum.value < 10 || datum.value > 190", "value": 0}, "value": 0.85}}},
    "y": {"field": "m", "type": "quantitative", "scale": {"domain": [0, 6], "nice": false}, "axis": {"values": [0, 2, 4, 6], "format": "d", "tickCount": 10, "title": "FFT(Tₑ)(mpu)", "labelExpr": "datum.value == 0 ? '' : datum.label", "gridOpacity": {"condition": {"test": "datum.value < 0.5 || datum.value > 5.5", "value": 0}, "value": 0.85}}}
   }},
  {"data": {"name": "thd_te_b"}, "mark": {"type": "text", "font": "Liberation Serif", "fontSize": 19, "color": "#111", "align": "left", "baseline": "middle"},
   "encoding": {"x": {"datum": 103, "type": "quantitative"}, "y": {"datum": 3.1, "type": "quantitative"}, "text": {"field": "txt"}}}
 ]}
]
},
{
"columns": 2, "bounds": "flush", "spacing": {"row": 84, "column": 75},
"resolve": {"scale": {"color": "independent", "strokeDash": "independent"}},
"title": {"text": "（c）有电流传感器 MTPA 控制方法", "orient": "bottom", "anchor": "middle", "font": "Noto Sans CJK SC", "fontSize": 19, "fontWeight": "normal", "color": "#111", "offset": 34},
"concat": [
{"width": 228, "height": 119, "data": {"name": "cur_c"},
 "mark": {"type": "line", "strokeWidth": 1.4},
 "encoding": {
  "x": {"field": "t", "type": "quantitative", "scale": {"domain": [0.1, 0.2], "nice": false, "zero": false}, "axis": {"values": [0.1, 0.15, 0.2], "format": ".2f", "tickCount": 10, "title": "t/s", "gridOpacity": {"condition": {"test": "datum.value < 0.11 || datum.value > 0.19", "value": 0}, "value": 0.85}}},
  "y": {"field": "v", "type": "quantitative", "scale": {"domain": [-60, 60], "nice": false}, "axis": {"values": [-50, 0, 50], "format": "d", "tickCount": 10, "title": "iabc/A"}},
  "color": {"field": "s", "type": "nominal", "scale": {"domain": ["ia", "ib", "ic"], "range": ["#3461b5", "#e8262d", "#111111"]}, "legend": {"orient": "none", "legendX": 28, "legendY": -10, "direction": "horizontal", "title": null, "symbolType": "stroke", "symbolSize": 1444, "symbolStrokeWidth": 2, "labelFont": "Liberation Serif", "labelFontSize": 19, "labelFontStyle": "italic", "labelOffset": 4, "columnPadding": 3, "padding": 0}},
  "strokeDash": {"field": "s", "type": "nominal", "scale": {"domain": ["ia", "ib", "ic"], "range": [[1, 0], [2, 1.5], [6, 2.5, 2, 2.5]]}, "legend": {"orient": "none", "legendX": 28, "legendY": -10, "direction": "horizontal", "title": null, "symbolType": "stroke", "symbolSize": 1444, "symbolStrokeWidth": 2, "labelFont": "Liberation Serif", "labelFontSize": 19, "labelFontStyle": "italic", "labelOffset": 4, "columnPadding": 3, "padding": 0}}
 }},
{"width": 228, "height": 119,
 "layer": [
  {"data": {"name": "fia_c"}, "mark": {"type": "line", "color": "#4a78c8", "strokeWidth": 1.2},
   "encoding": {
    "x": {"field": "f", "type": "quantitative", "scale": {"domain": [0, 200], "nice": false}, "axis": {"values": [0, 100, 200], "format": "d", "tickCount": 10, "title": "f/Hz", "gridOpacity": {"condition": {"test": "datum.value < 10 || datum.value > 190", "value": 0}, "value": 0.85}}},
    "y": {"field": "m", "type": "quantitative", "scale": {"domain": [0, 40], "nice": false}, "axis": {"values": [0, 20, 40], "format": "d", "tickCount": 10, "title": "FFT(iₐ)/A", "labelExpr": "datum.value == 0 ? '' : datum.label", "gridOpacity": {"condition": {"test": "datum.value < 1 || datum.value > 39", "value": 0}, "value": 0.85}}}
   }},
  {"data": {"name": "tip_c"}, "mark": {"type": "rect", "fill": "#ffffff", "fillOpacity": 0.92, "stroke": "#a0a0a0", "strokeWidth": 1, "cornerRadius": 3, "xOffset": 3, "x2Offset": 93, "yOffset": 0.5, "y2Offset": 57},
   "encoding": {"x": {"field": "f", "type": "quantitative"}, "x2": {"field": "f"}, "y": {"field": "m", "type": "quantitative"}, "y2": {"field": "m"}}},
  {"data": {"name": "tip_c"}, "mark": {"type": "point", "filled": true, "fill": "#111111", "size": 30, "stroke": "#efe38a", "strokeWidth": 1.5, "opacity": 1},
   "encoding": {"x": {"field": "f", "type": "quantitative"}, "y": {"field": "m", "type": "quantitative"}}},
  {"data": {"name": "tip_c"}, "mark": {"type": "text", "text": ["X", "Y"], "lineHeight": 23.5, "font": "Liberation Serif", "fontStyle": "italic", "fontSize": 19, "color": "#505050", "align": "left", "baseline": "alphabetic", "dx": 5, "dy": 21},
   "encoding": {"x": {"field": "f", "type": "quantitative"}, "y": {"field": "m", "type": "quantitative"}}},
  {"data": {"name": "tip_c"}, "mark": {"type": "text", "text": [":", ":"], "lineHeight": 23.5, "font": "Liberation Serif", "fontSize": 19, "color": "#505050", "align": "center", "baseline": "alphabetic", "dx": 22, "dy": 21},
   "encoding": {"x": {"field": "f", "type": "quantitative"}, "y": {"field": "m", "type": "quantitative"}}},
  {"data": {"name": "tip_c"}, "mark": {"type": "text", "font": "Liberation Serif", "fontSize": 19, "color": "#4d7fd6", "align": "left", "baseline": "alphabetic", "dx": 29, "dy": 21},
   "encoding": {"x": {"field": "f", "type": "quantitative"}, "y": {"field": "m", "type": "quantitative"}, "text": {"field": "xs"}}},
  {"data": {"name": "tip_c"}, "mark": {"type": "text", "font": "Liberation Serif", "fontSize": 19, "color": "#4d7fd6", "align": "left", "baseline": "alphabetic", "dx": 29, "dy": 44.5},
   "encoding": {"x": {"field": "f", "type": "quantitative"}, "y": {"field": "m", "type": "quantitative"}, "text": {"field": "ys"}}},
  {"data": {"name": "thd_ia_c"}, "mark": {"type": "text", "font": "Liberation Serif", "fontSize": 19, "color": "#111", "align": "left", "baseline": "middle"},
   "encoding": {"x": {"datum": 101, "type": "quantitative"}, "y": {"datum": 12.9, "type": "quantitative"}, "text": {"field": "txt"}}}
 ]},
{"width": 228, "height": 119, "data": {"name": "te_c"},
 "mark": {"type": "line", "color": "#a4529e", "strokeWidth": 1},
 "encoding": {
  "x": {"field": "t", "type": "quantitative", "scale": {"domain": [0.1, 0.2], "nice": false, "zero": false}, "axis": {"values": [0.1, 0.15, 0.2], "format": ".2f", "tickCount": 10, "title": "t/s", "gridOpacity": {"condition": {"test": "datum.value < 0.11 || datum.value > 0.19", "value": 0}, "value": 0.85}}},
  "y": {"field": "v", "type": "quantitative", "scale": {"domain": [160, 240], "nice": false, "zero": false}, "axis": {"values": [160, 180, 200, 220, 240], "format": "d", "tickCount": 10, "title": "Tₑ/(N•m)", "gridOpacity": {"condition": {"test": "datum.value < 170 || datum.value > 230", "value": 0}, "value": 0.85}}}
 }},
{"width": 228, "height": 119,
 "layer": [
  {"data": {"name": "fte_c"}, "mark": {"type": "line", "color": "#4a78c8", "strokeWidth": 1.2},
   "encoding": {
    "x": {"field": "f", "type": "quantitative", "scale": {"domain": [0, 200], "nice": false}, "axis": {"values": [0, 100, 200], "format": "d", "tickCount": 10, "title": "f/Hz", "gridOpacity": {"condition": {"test": "datum.value < 10 || datum.value > 190", "value": 0}, "value": 0.85}}},
    "y": {"field": "m", "type": "quantitative", "scale": {"domain": [0, 6], "nice": false}, "axis": {"values": [0, 2, 4, 6], "format": "d", "tickCount": 10, "title": "FFT(Tₑ)(mpu)", "labelExpr": "datum.value == 0 ? '' : datum.label", "gridOpacity": {"condition": {"test": "datum.value < 0.5 || datum.value > 5.5", "value": 0}, "value": 0.85}}}
   }},
  {"data": {"name": "thd_te_c"}, "mark": {"type": "text", "font": "Liberation Serif", "fontSize": 19, "color": "#111", "align": "left", "baseline": "middle"},
   "encoding": {"x": {"datum": 103, "type": "quantitative"}, "y": {"datum": 3.0, "type": "quantitative"}, "text": {"field": "txt"}}}
 ]}
]
}
],
"config": {
 "font": "Liberation Serif",
 "view": {"stroke": "#808080", "strokeWidth": 1},
 "axis": {"labelFont": "Liberation Serif", "labelFontSize": 19, "labelColor": "#111", "labelPadding": 7, "labelFlush": false, "labelOverlap": false, "titleFont": "Liberation Serif", "titleFontSize": 19, "titleFontWeight": "normal", "titleColor": "#111", "ticks": false, "domain": false, "grid": true, "gridColor": "#222", "gridDash": [1.5, 1.5], "gridWidth": 0.8},
 "axisX": {"titlePadding": 5},
 "axisY": {"titlePadding": 11}
}
}
